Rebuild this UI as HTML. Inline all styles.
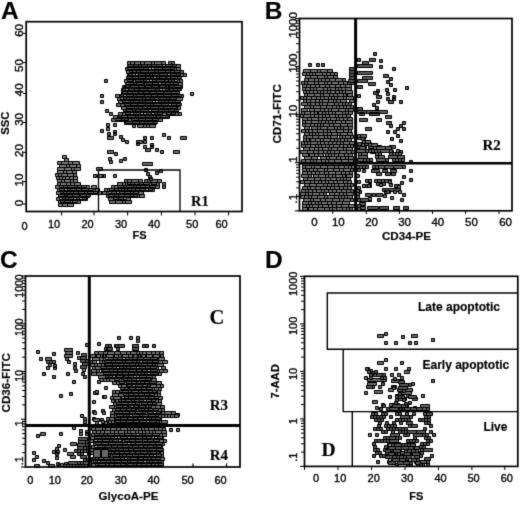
<!DOCTYPE html>
<html><head><meta charset="utf-8"><style>html,body{margin:0;padding:0;background:#fff;width:520px;height:505px;overflow:hidden}svg{display:block;filter:grayscale(1)}</style></head>
<body><svg width="520" height="505" viewBox="0 0 520 505"><defs><filter id="b" x="0" y="0" width="520" height="505" filterUnits="userSpaceOnUse" color-interpolation-filters="sRGB"><feConvolveMatrix order="3" kernelMatrix="0.0144 0.0912 0.0144 0.0912 0.5776 0.0912 0.0144 0.0912 0.0144" edgeMode="duplicate"/></filter></defs><g filter="url(#b)"><rect width="520" height="505" fill="#fff"/>
<path d="M127.5 61.5h3v3h-3zM130.5 61.5h4v3h-4zM134.5 61.5h6v3h-6zM140.5 61.5h4v3h-4zM144.5 61.5h7v3h-7zM151.5 61.5h3v3h-3zM154.5 61.5h7v3h-7zM161.5 61.5h4v3h-4zM168.5 61.5h3v3h-3zM171.5 61.5h3v3h-3zM127.5 64.5h3v3h-3zM130.5 64.5h5v3h-5zM135.5 64.5h4v3h-4zM139.5 64.5h6v3h-6zM145.5 64.5h3v3h-3zM150.5 64.5h5v3h-5zM155.5 64.5h5v3h-5zM160.5 64.5h3v3h-3zM163.5 64.5h6v3h-6zM169.5 64.5h6v3h-6zM175.5 64.5h5v3h-5zM125.5 67.5h7v3h-7zM132.5 67.5h6v3h-6zM138.5 67.5h5v3h-5zM143.5 67.5h5v3h-5zM148.5 67.5h4v3h-4zM152.5 67.5h3v3h-3zM155.5 67.5h5v3h-5zM160.5 67.5h4v3h-4zM164.5 67.5h7v3h-7zM171.5 67.5h5v3h-5zM176.5 67.5h4v3h-4zM126.5 70.5h5v3h-5zM131.5 70.5h5v3h-5zM136.5 70.5h4v3h-4zM140.5 70.5h3v3h-3zM143.5 70.5h3v3h-3zM146.5 70.5h3v3h-3zM149.5 70.5h4v3h-4zM153.5 70.5h4v3h-4zM157.5 70.5h7v3h-7zM164.5 70.5h7v3h-7zM171.5 70.5h3v3h-3zM174.5 70.5h6v3h-6zM180.5 70.5h3v3h-3zM127.5 73.5h3v3h-3zM130.5 73.5h5v3h-5zM135.5 73.5h4v3h-4zM139.5 73.5h4v3h-4zM143.5 73.5h6v3h-6zM149.5 73.5h5v3h-5zM154.5 73.5h5v3h-5zM159.5 73.5h7v3h-7zM166.5 73.5h6v3h-6zM173.5 73.5h7v3h-7zM180.5 73.5h3v3h-3zM183.5 73.5h3v3h-3zM126.5 76.5h5v3h-5zM131.5 76.5h7v3h-7zM138.5 76.5h4v3h-4zM142.5 76.5h4v3h-4zM146.5 76.5h4v3h-4zM150.5 76.5h3v3h-3zM153.5 76.5h5v3h-5zM158.5 76.5h3v3h-3zM161.5 76.5h4v3h-4zM165.5 76.5h6v3h-6zM171.5 76.5h7v3h-7zM124.5 79.5h6v3h-6zM130.5 79.5h3v3h-3zM133.5 79.5h6v3h-6zM139.5 79.5h3v3h-3zM142.5 79.5h7v3h-7zM149.5 79.5h3v3h-3zM152.5 79.5h7v3h-7zM159.5 79.5h7v3h-7zM166.5 79.5h7v3h-7zM173.5 79.5h3v3h-3zM176.5 79.5h3v3h-3zM179.5 79.5h3v3h-3zM126.5 82.5h6v3h-6zM132.5 82.5h7v3h-7zM139.5 82.5h5v3h-5zM144.5 82.5h6v3h-6zM150.5 82.5h7v3h-7zM157.5 82.5h4v3h-4zM161.5 82.5h6v3h-6zM167.5 82.5h3v3h-3zM170.5 82.5h7v3h-7zM177.5 82.5h5v3h-5zM124.5 85.5h4v3h-4zM128.5 85.5h3v3h-3zM131.5 85.5h5v3h-5zM136.5 85.5h4v3h-4zM140.5 85.5h3v3h-3zM143.5 85.5h7v3h-7zM150.5 85.5h6v3h-6zM156.5 85.5h3v3h-3zM159.5 85.5h5v3h-5zM164.5 85.5h7v3h-7zM171.5 85.5h4v3h-4zM175.5 85.5h7v3h-7zM121.5 88.5h5v3h-5zM126.5 88.5h4v3h-4zM130.5 88.5h5v3h-5zM135.5 88.5h4v3h-4zM139.5 88.5h7v3h-7zM146.5 88.5h4v3h-4zM150.5 88.5h6v3h-6zM156.5 88.5h4v3h-4zM160.5 88.5h6v3h-6zM169.5 88.5h3v3h-3zM172.5 88.5h4v3h-4zM176.5 88.5h3v3h-3zM121.5 91.5h3v3h-3zM124.5 91.5h4v3h-4zM128.5 91.5h6v3h-6zM134.5 91.5h3v3h-3zM137.5 91.5h4v3h-4zM141.5 91.5h3v3h-3zM144.5 91.5h3v3h-3zM147.5 91.5h4v3h-4zM151.5 91.5h4v3h-4zM155.5 91.5h6v3h-6zM161.5 91.5h4v3h-4zM165.5 91.5h4v3h-4zM169.5 91.5h6v3h-6zM175.5 91.5h4v3h-4zM115.5 94.5h4v3h-4zM119.5 94.5h4v3h-4zM123.5 94.5h4v3h-4zM127.5 94.5h7v3h-7zM134.5 94.5h4v3h-4zM138.5 94.5h4v3h-4zM142.5 94.5h4v3h-4zM146.5 94.5h6v3h-6zM152.5 94.5h6v3h-6zM158.5 94.5h7v3h-7zM165.5 94.5h6v3h-6zM171.5 94.5h6v3h-6zM177.5 94.5h6v3h-6zM117.5 97.5h3v3h-3zM120.5 97.5h7v3h-7zM127.5 97.5h4v3h-4zM131.5 97.5h3v3h-3zM134.5 97.5h3v3h-3zM137.5 97.5h7v3h-7zM144.5 97.5h6v3h-6zM150.5 97.5h3v3h-3zM153.5 97.5h4v3h-4zM157.5 97.5h4v3h-4zM161.5 97.5h4v3h-4zM165.5 97.5h4v3h-4zM169.5 97.5h3v3h-3zM172.5 97.5h3v3h-3zM175.5 97.5h7v3h-7zM118.5 100.5h4v3h-4zM122.5 100.5h4v3h-4zM126.5 100.5h5v3h-5zM131.5 100.5h6v3h-6zM137.5 100.5h5v3h-5zM142.5 100.5h4v3h-4zM149.5 100.5h5v3h-5zM154.5 100.5h6v3h-6zM160.5 100.5h3v3h-3zM163.5 100.5h5v3h-5zM168.5 100.5h6v3h-6zM176.5 100.5h4v3h-4zM116.5 103.5h4v3h-4zM120.5 103.5h4v3h-4zM124.5 103.5h5v3h-5zM129.5 103.5h4v3h-4zM133.5 103.5h6v3h-6zM139.5 103.5h5v3h-5zM144.5 103.5h4v3h-4zM148.5 103.5h3v3h-3zM151.5 103.5h4v3h-4zM155.5 103.5h6v3h-6zM161.5 103.5h4v3h-4zM165.5 103.5h3v3h-3zM168.5 103.5h6v3h-6zM174.5 103.5h5v3h-5zM121.5 106.5h6v3h-6zM127.5 106.5h3v3h-3zM130.5 106.5h4v3h-4zM134.5 106.5h3v3h-3zM137.5 106.5h5v3h-5zM142.5 106.5h3v3h-3zM145.5 106.5h3v3h-3zM148.5 106.5h4v3h-4zM152.5 106.5h5v3h-5zM157.5 106.5h7v3h-7zM164.5 106.5h3v3h-3zM167.5 106.5h7v3h-7zM174.5 106.5h3v3h-3zM177.5 106.5h3v3h-3zM123.5 109.5h6v3h-6zM129.5 109.5h6v3h-6zM135.5 109.5h5v3h-5zM140.5 109.5h6v3h-6zM146.5 109.5h6v3h-6zM152.5 109.5h7v3h-7zM159.5 109.5h4v3h-4zM163.5 109.5h4v3h-4zM167.5 109.5h3v3h-3zM173.5 109.5h5v3h-5zM118.5 112.5h4v3h-4zM122.5 112.5h4v3h-4zM126.5 112.5h4v3h-4zM130.5 112.5h6v3h-6zM138.5 112.5h3v3h-3zM141.5 112.5h3v3h-3zM144.5 112.5h5v3h-5zM151.5 112.5h3v3h-3zM154.5 112.5h4v3h-4zM158.5 112.5h4v3h-4zM162.5 112.5h5v3h-5zM167.5 112.5h6v3h-6zM173.5 112.5h5v3h-5zM178.5 112.5h3v3h-3zM113.5 115.5h4v3h-4zM117.5 115.5h3v3h-3zM120.5 115.5h3v3h-3zM123.5 115.5h4v3h-4zM127.5 115.5h7v3h-7zM134.5 115.5h3v3h-3zM137.5 115.5h7v3h-7zM144.5 115.5h4v3h-4zM148.5 115.5h5v3h-5zM153.5 115.5h4v3h-4zM157.5 115.5h5v3h-5zM162.5 115.5h7v3h-7zM111.5 118.5h5v3h-5zM116.5 118.5h3v3h-3zM119.5 118.5h4v3h-4zM123.5 118.5h3v3h-3zM126.5 118.5h7v3h-7zM133.5 118.5h3v3h-3zM136.5 118.5h5v3h-5zM141.5 118.5h4v3h-4zM145.5 118.5h4v3h-4zM149.5 118.5h7v3h-7zM156.5 118.5h6v3h-6zM124.5 121.5h6v3h-6zM130.5 121.5h7v3h-7zM137.5 121.5h3v3h-3zM140.5 121.5h4v3h-4zM144.5 121.5h3v3h-3zM147.5 121.5h3v3h-3zM153.5 121.5h3v3h-3zM132.5 124.5h3v3h-3zM137.5 124.5h6v3h-6zM143.5 124.5h3v3h-3zM146.5 124.5h3v3h-3zM149.5 124.5h6v3h-6z" fill="#707070" stroke="#000" stroke-width="1"/>
<path d="M127.5 64.5h6v2h-6zM133.5 64.5h5v2h-5zM138.5 64.5h3v2h-3zM141.5 64.5h6v2h-6zM147.5 64.5h4v2h-4zM151.5 64.5h5v2h-5zM156.5 64.5h6v2h-6z" fill="#5a5a5a" stroke="#000" stroke-width="1"/>
<path d="M162.5 64.5h3v2h-3z" fill="#bbb" stroke="#000" stroke-width="1"/>
<path d="M165.5 64.5h7v2h-7zM172.5 64.5h4v2h-4zM127.5 67.5h7v2h-7zM134.5 67.5h5v2h-5zM139.5 67.5h4v2h-4zM143.5 67.5h5v2h-5z" fill="#5a5a5a" stroke="#000" stroke-width="1"/>
<path d="M148.5 67.5h3v2h-3zM151.5 67.5h3v2h-3z" fill="#bbb" stroke="#000" stroke-width="1"/>
<path d="M154.5 67.5h8v2h-8zM162.5 67.5h8v2h-8zM170.5 67.5h4v2h-4zM129.5 70.5h3v2h-3zM132.5 70.5h4v2h-4zM136.5 70.5h4v2h-4zM140.5 70.5h8v2h-8zM148.5 70.5h6v2h-6zM154.5 70.5h4v2h-4zM158.5 70.5h7v2h-7zM165.5 70.5h5v2h-5zM170.5 70.5h4v2h-4zM174.5 70.5h6v2h-6zM128.5 73.5h4v2h-4z" fill="#5a5a5a" stroke="#000" stroke-width="1"/>
<path d="M132.5 73.5h3v2h-3zM135.5 73.5h3v2h-3z" fill="#bbb" stroke="#000" stroke-width="1"/>
<path d="M138.5 73.5h7v2h-7zM145.5 73.5h4v2h-4zM149.5 73.5h3v2h-3zM152.5 73.5h7v2h-7zM159.5 73.5h8v2h-8z" fill="#5a5a5a" stroke="#000" stroke-width="1"/>
<path d="M167.5 73.5h3v2h-3z" fill="#bbb" stroke="#000" stroke-width="1"/>
<path d="M170.5 73.5h6v2h-6zM176.5 73.5h4v2h-4zM126.5 76.5h6v2h-6zM132.5 76.5h6v2h-6zM138.5 76.5h7v2h-7zM145.5 76.5h5v2h-5zM150.5 76.5h3v2h-3z" fill="#5a5a5a" stroke="#000" stroke-width="1"/>
<path d="M153.5 76.5h3v2h-3z" fill="#bbb" stroke="#000" stroke-width="1"/>
<path d="M156.5 76.5h3v2h-3zM159.5 76.5h7v2h-7zM166.5 76.5h4v2h-4zM170.5 76.5h7v2h-7zM177.5 76.5h4v2h-4zM127.5 79.5h5v2h-5zM135.5 79.5h5v2h-5zM140.5 79.5h3v2h-3zM143.5 79.5h3v2h-3z" fill="#5a5a5a" stroke="#000" stroke-width="1"/>
<path d="M146.5 79.5h3v2h-3zM149.5 79.5h3v2h-3z" fill="#bbb" stroke="#000" stroke-width="1"/>
<path d="M152.5 79.5h4v2h-4zM156.5 79.5h8v2h-8zM164.5 79.5h4v2h-4zM168.5 79.5h3v2h-3zM171.5 79.5h3v2h-3z" fill="#5a5a5a" stroke="#000" stroke-width="1"/>
<path d="M174.5 79.5h3v2h-3z" fill="#bbb" stroke="#000" stroke-width="1"/>
<path d="M125.5 82.5h8v2h-8zM133.5 82.5h3v2h-3zM136.5 82.5h7v2h-7zM146.5 82.5h6v2h-6zM152.5 82.5h6v2h-6z" fill="#5a5a5a" stroke="#000" stroke-width="1"/>
<path d="M158.5 82.5h3v2h-3z" fill="#bbb" stroke="#000" stroke-width="1"/>
<path d="M161.5 82.5h4v2h-4zM165.5 82.5h5v2h-5zM170.5 82.5h3v2h-3zM173.5 82.5h5v2h-5zM122.5 85.5h3v2h-3zM124.5 85.5h5v2h-5zM130.5 85.5h8v2h-8zM138.5 85.5h7v2h-7zM144.5 85.5h7v2h-7zM152.5 85.5h7v2h-7zM158.5 85.5h7v2h-7zM166.5 85.5h3v2h-3zM168.5 85.5h6v2h-6zM174.5 85.5h7v2h-7zM122.5 88.5h3v2h-3z" fill="#5a5a5a" stroke="#000" stroke-width="1"/>
<path d="M125.5 88.5h3v2h-3z" fill="#bbb" stroke="#000" stroke-width="1"/>
<path d="M128.5 88.5h6v2h-6zM134.5 88.5h5v2h-5zM139.5 88.5h8v2h-8zM147.5 88.5h8v2h-8zM155.5 88.5h4v2h-4z" fill="#5a5a5a" stroke="#000" stroke-width="1"/>
<path d="M159.5 88.5h3v2h-3zM162.5 88.5h3v2h-3z" fill="#bbb" stroke="#000" stroke-width="1"/>
<path d="M165.5 88.5h3v2h-3zM169.5 88.5h4v2h-4zM173.5 88.5h4v2h-4zM177.5 88.5h4v2h-4zM122.5 91.5h5v2h-5zM127.5 91.5h5v2h-5zM132.5 91.5h6v2h-6zM138.5 91.5h5v2h-5zM143.5 91.5h6v2h-6zM149.5 91.5h7v2h-7zM156.5 91.5h7v2h-7zM163.5 91.5h8v2h-8zM171.5 91.5h8v2h-8zM120.5 94.5h3v2h-3z" fill="#5a5a5a" stroke="#000" stroke-width="1"/>
<path d="M123.5 94.5h3v2h-3z" fill="#bbb" stroke="#000" stroke-width="1"/>
<path d="M126.5 94.5h7v2h-7zM133.5 94.5h3v2h-3zM136.5 94.5h8v2h-8zM144.5 94.5h7v2h-7zM151.5 94.5h6v2h-6zM157.5 94.5h6v2h-6zM163.5 94.5h8v2h-8zM171.5 94.5h6v2h-6zM177.5 94.5h4v2h-4z" fill="#5a5a5a" stroke="#000" stroke-width="1"/>
<path d="M120.5 97.5h3v2h-3z" fill="#bbb" stroke="#000" stroke-width="1"/>
<path d="M123.5 97.5h3v2h-3zM126.5 97.5h8v2h-8zM134.5 97.5h8v2h-8zM142.5 97.5h3v2h-3zM145.5 97.5h5v2h-5zM150.5 97.5h4v2h-4zM154.5 97.5h4v2h-4zM158.5 97.5h8v2h-8zM166.5 97.5h3v2h-3zM169.5 97.5h7v2h-7zM122.5 100.5h8v2h-8zM130.5 100.5h3v2h-3zM133.5 100.5h6v2h-6zM139.5 100.5h3v2h-3zM142.5 100.5h3v2h-3zM145.5 100.5h7v2h-7z" fill="#5a5a5a" stroke="#000" stroke-width="1"/>
<path d="M152.5 100.5h3v2h-3zM155.5 100.5h3v2h-3z" fill="#bbb" stroke="#000" stroke-width="1"/>
<path d="M158.5 100.5h3v2h-3zM161.5 100.5h3v2h-3zM164.5 100.5h4v2h-4zM168.5 100.5h4v2h-4zM172.5 100.5h3v2h-3zM175.5 100.5h5v2h-5zM124.5 103.5h6v2h-6zM130.5 103.5h7v2h-7zM137.5 103.5h8v2h-8zM145.5 103.5h5v2h-5zM150.5 103.5h3v2h-3zM153.5 103.5h8v2h-8zM161.5 103.5h7v2h-7z" fill="#5a5a5a" stroke="#000" stroke-width="1"/>
<path d="M168.5 103.5h3v2h-3z" fill="#bbb" stroke="#000" stroke-width="1"/>
<path d="M171.5 103.5h5v2h-5zM176.5 103.5h5v2h-5zM126.5 106.5h8v2h-8zM134.5 106.5h4v2h-4zM138.5 106.5h4v2h-4zM142.5 106.5h5v2h-5zM147.5 106.5h3v2h-3zM150.5 106.5h8v2h-8zM158.5 106.5h5v2h-5zM163.5 106.5h7v2h-7zM170.5 106.5h6v2h-6zM123.5 109.5h3v2h-3zM126.5 109.5h6v2h-6zM132.5 109.5h3v2h-3zM135.5 109.5h5v2h-5zM140.5 109.5h8v2h-8z" fill="#5a5a5a" stroke="#000" stroke-width="1"/>
<path d="M148.5 109.5h3v2h-3z" fill="#bbb" stroke="#000" stroke-width="1"/>
<path d="M151.5 109.5h7v2h-7zM158.5 109.5h6v2h-6zM164.5 109.5h4v2h-4zM168.5 109.5h6v2h-6zM174.5 109.5h4v2h-4zM125.5 112.5h5v2h-5z" fill="#5a5a5a" stroke="#000" stroke-width="1"/>
<path d="M130.5 112.5h3v2h-3z" fill="#bbb" stroke="#000" stroke-width="1"/>
<path d="M133.5 112.5h7v2h-7z" fill="#5a5a5a" stroke="#000" stroke-width="1"/>
<path d="M140.5 112.5h3v2h-3zM143.5 112.5h3v2h-3z" fill="#bbb" stroke="#000" stroke-width="1"/>
<path d="M146.5 112.5h5v2h-5z" fill="#5a5a5a" stroke="#000" stroke-width="1"/>
<path d="M151.5 112.5h3v2h-3z" fill="#bbb" stroke="#000" stroke-width="1"/>
<path d="M154.5 112.5h3v2h-3zM157.5 112.5h5v2h-5zM166.5 112.5h5v2h-5zM171.5 112.5h4v2h-4zM118.5 115.5h3v2h-3zM121.5 115.5h6v2h-6zM127.5 115.5h8v2h-8zM135.5 115.5h3v2h-3zM138.5 115.5h7v2h-7zM145.5 115.5h4v2h-4zM149.5 115.5h4v2h-4zM153.5 115.5h3v2h-3zM156.5 115.5h4v2h-4zM160.5 115.5h8v2h-8zM115.5 118.5h6v2h-6zM121.5 118.5h3v2h-3zM124.5 118.5h4v2h-4zM131.5 118.5h7v2h-7zM138.5 118.5h7v2h-7zM145.5 118.5h7v2h-7zM152.5 118.5h6v2h-6zM125.5 121.5h7v2h-7zM132.5 121.5h7v2h-7zM139.5 121.5h5v2h-5zM144.5 121.5h3v2h-3zM147.5 121.5h6v2h-6zM153.5 121.5h4v2h-4z" fill="#5a5a5a" stroke="#000" stroke-width="1"/>
<path d="M104.5 79.5h3v3h-3zM100.5 94.5h3v3h-3zM100.5 100.5h3v3h-3zM190.5 92.5h3v3h-3zM105.5 109.5h3v3h-3zM109.5 112.5h3v3h-3zM106.5 123.5h3v3h-3zM113.5 123.5h3v3h-3zM106.5 127.5h3v3h-3zM100.5 129.5h3v3h-3zM107.5 132.5h3v3h-3zM113.5 130.5h3v3h-3zM113.5 132.5h3v3h-3zM107.5 136.5h6v3h-6zM119.5 135.5h3v3h-3zM121.5 138.5h3v3h-3zM125.5 140.5h3v3h-3zM136.5 140.5h6v3h-6zM136.5 142.5h3v3h-3zM143.5 136.5h3v3h-3zM143.5 140.5h3v3h-3zM150.5 136.5h3v3h-3zM150.5 143.5h3v3h-3zM150.5 145.5h3v3h-3zM143.5 145.5h3v3h-3zM145.5 148.5h5v3h-5zM155.5 148.5h3v3h-3zM160.5 150.5h3v3h-3zM162.5 133.5h3v3h-3zM167.5 136.5h3v3h-3zM180.5 136.5h6v3h-6zM173.5 150.5h6v3h-6zM107.5 150.5h6v3h-6zM114.5 152.5h3v3h-3zM108.5 157.5h3v3h-3zM109.5 160.5h3v3h-3zM119.5 159.5h3v3h-3zM123.5 157.5h3v3h-3zM142.5 162.5h10v3h-10z" fill="#6a6a6a" stroke="#000" stroke-width="1"/>
<path d="M62.5 155.5h4v3h-4zM64.5 158.5h4v3h-4zM57.5 161.5h4v3h-4zM61.5 161.5h7v3h-7zM68.5 161.5h4v3h-4zM72.5 161.5h7v3h-7zM59.5 164.5h7v3h-7zM66.5 164.5h3v3h-3zM69.5 164.5h7v3h-7zM76.5 164.5h4v3h-4zM57.5 167.5h7v3h-7zM64.5 167.5h7v3h-7zM71.5 167.5h3v3h-3zM74.5 167.5h6v3h-6zM57.5 170.5h6v3h-6zM63.5 170.5h3v3h-3zM66.5 170.5h6v3h-6zM72.5 170.5h4v3h-4zM55.5 173.5h3v3h-3zM58.5 173.5h3v3h-3zM61.5 173.5h6v3h-6zM67.5 173.5h6v3h-6zM73.5 173.5h3v3h-3zM56.5 176.5h3v3h-3zM59.5 176.5h3v3h-3zM62.5 176.5h3v3h-3zM65.5 176.5h4v3h-4zM69.5 176.5h4v3h-4zM73.5 176.5h4v3h-4zM57.5 179.5h4v3h-4zM61.5 179.5h3v3h-3zM64.5 179.5h6v3h-6zM70.5 179.5h3v3h-3zM73.5 179.5h4v3h-4zM57.5 182.5h3v3h-3zM60.5 182.5h6v3h-6zM66.5 182.5h4v3h-4zM70.5 182.5h4v3h-4zM74.5 182.5h6v3h-6zM55.5 185.5h6v3h-6zM61.5 185.5h4v3h-4zM65.5 185.5h4v3h-4zM69.5 185.5h7v3h-7zM76.5 185.5h4v3h-4zM80.5 185.5h3v3h-3zM83.5 185.5h6v3h-6zM91.5 185.5h5v3h-5zM57.5 188.5h5v3h-5zM62.5 188.5h3v3h-3zM65.5 188.5h4v3h-4zM69.5 188.5h4v3h-4zM73.5 188.5h7v3h-7zM80.5 188.5h4v3h-4zM84.5 188.5h4v3h-4zM88.5 188.5h7v3h-7zM95.5 188.5h4v3h-4zM56.5 191.5h4v3h-4zM60.5 191.5h4v3h-4zM64.5 191.5h4v3h-4zM68.5 191.5h4v3h-4zM72.5 191.5h6v3h-6zM78.5 191.5h7v3h-7zM85.5 191.5h3v3h-3zM88.5 191.5h7v3h-7zM95.5 191.5h6v3h-6zM101.5 191.5h3v3h-3zM58.5 194.5h5v3h-5zM63.5 194.5h7v3h-7zM70.5 194.5h6v3h-6zM76.5 194.5h6v3h-6zM82.5 194.5h7v3h-7zM56.5 197.5h6v3h-6zM62.5 197.5h5v3h-5zM67.5 197.5h6v3h-6zM73.5 197.5h4v3h-4zM77.5 197.5h4v3h-4zM81.5 197.5h3v3h-3zM84.5 197.5h3v3h-3zM58.5 200.5h3v3h-3zM61.5 200.5h4v3h-4zM65.5 200.5h4v3h-4zM69.5 200.5h6v3h-6zM75.5 200.5h5v3h-5zM58.5 203.5h4v3h-4zM62.5 203.5h5v3h-5zM67.5 203.5h6v3h-6z" fill="#7a7a7a" stroke="#000" stroke-width="1"/>
<path d="M59.5 185.5h4v2h-4zM63.5 185.5h4v2h-4zM67.5 185.5h7v2h-7zM74.5 185.5h3v2h-3zM77.5 185.5h4v2h-4zM81.5 185.5h5v2h-5zM59.5 188.5h5v2h-5z" fill="#666" stroke="#000" stroke-width="1"/>
<path d="M64.5 188.5h3v2h-3z" fill="#bbb" stroke="#000" stroke-width="1"/>
<path d="M67.5 188.5h3v2h-3zM70.5 188.5h6v2h-6zM76.5 188.5h5v2h-5zM81.5 188.5h7v2h-7zM88.5 188.5h5v2h-5zM60.5 191.5h3v2h-3zM63.5 191.5h3v2h-3zM66.5 191.5h4v2h-4zM70.5 191.5h3v2h-3zM73.5 191.5h5v2h-5zM78.5 191.5h6v2h-6zM84.5 191.5h3v2h-3zM87.5 191.5h6v2h-6zM93.5 191.5h4v2h-4zM58.5 194.5h6v2h-6zM64.5 194.5h3v2h-3zM66.5 194.5h6v2h-6zM72.5 194.5h7v2h-7zM80.5 194.5h6v2h-6zM86.5 194.5h4v2h-4z" fill="#666" stroke="#000" stroke-width="1"/>
<path d="M59.5 197.5h3v2h-3z" fill="#bbb" stroke="#000" stroke-width="1"/>
<path d="M62.5 197.5h3v2h-3zM65.5 197.5h3v2h-3zM68.5 197.5h5v2h-5z" fill="#666" stroke="#000" stroke-width="1"/>
<path d="M73.5 197.5h3v2h-3z" fill="#bbb" stroke="#000" stroke-width="1"/>
<path d="M76.5 197.5h3v2h-3z" fill="#666" stroke="#000" stroke-width="1"/>
<path d="M79.5 197.5h3v2h-3z" fill="#bbb" stroke="#000" stroke-width="1"/>
<path d="M82.5 197.5h4v2h-4zM60.5 200.5h4v2h-4zM64.5 200.5h6v2h-6z" fill="#666" stroke="#000" stroke-width="1"/>
<path d="M70.5 200.5h3v2h-3z" fill="#bbb" stroke="#000" stroke-width="1"/>
<path d="M72.5 200.5h5v2h-5z" fill="#666" stroke="#000" stroke-width="1"/>
<path d="M124.5 179.5h3v3h-3zM127.5 179.5h4v3h-4zM131.5 179.5h7v3h-7zM138.5 179.5h4v3h-4zM144.5 179.5h3v3h-3zM147.5 179.5h3v3h-3zM150.5 179.5h7v3h-7zM157.5 179.5h4v3h-4zM117.5 182.5h5v3h-5zM122.5 182.5h3v3h-3zM125.5 182.5h6v3h-6zM131.5 182.5h7v3h-7zM138.5 182.5h5v3h-5zM143.5 182.5h3v3h-3zM146.5 182.5h7v3h-7zM153.5 182.5h3v3h-3zM156.5 182.5h3v3h-3zM111.5 185.5h3v3h-3zM114.5 185.5h5v3h-5zM119.5 185.5h4v3h-4zM123.5 185.5h4v3h-4zM127.5 185.5h5v3h-5zM132.5 185.5h5v3h-5zM137.5 185.5h4v3h-4zM141.5 185.5h6v3h-6zM147.5 185.5h3v3h-3zM150.5 185.5h4v3h-4zM154.5 185.5h5v3h-5zM104.5 188.5h3v3h-3zM107.5 188.5h3v3h-3zM110.5 188.5h3v3h-3zM113.5 188.5h7v3h-7zM120.5 188.5h6v3h-6zM126.5 188.5h4v3h-4zM130.5 188.5h4v3h-4zM134.5 188.5h3v3h-3zM137.5 188.5h4v3h-4zM141.5 188.5h3v3h-3zM144.5 188.5h6v3h-6zM150.5 188.5h4v3h-4zM102.5 191.5h4v3h-4zM106.5 191.5h3v3h-3zM109.5 191.5h6v3h-6zM115.5 191.5h6v3h-6zM121.5 191.5h7v3h-7zM128.5 191.5h5v3h-5zM133.5 191.5h4v3h-4zM137.5 191.5h6v3h-6zM106.5 194.5h5v3h-5zM111.5 194.5h5v3h-5zM116.5 194.5h3v3h-3zM119.5 194.5h4v3h-4zM123.5 194.5h3v3h-3zM126.5 194.5h5v3h-5zM131.5 194.5h4v3h-4zM135.5 194.5h4v3h-4zM139.5 194.5h5v3h-5zM108.5 197.5h5v3h-5zM113.5 197.5h5v3h-5zM118.5 197.5h5v3h-5zM123.5 197.5h7v3h-7zM109.5 200.5h6v3h-6zM115.5 200.5h7v3h-7zM122.5 200.5h3v3h-3zM125.5 200.5h6v3h-6z" fill="#707070" stroke="#000" stroke-width="1"/>
<path d="M127.5 182.5h3v2h-3zM130.5 182.5h4v2h-4zM134.5 182.5h5v2h-5zM139.5 182.5h4v2h-4zM143.5 182.5h6v2h-6zM151.5 182.5h5v2h-5zM117.5 185.5h6v2h-6zM123.5 185.5h3v2h-3zM126.5 185.5h7v2h-7zM133.5 185.5h3v2h-3zM136.5 185.5h4v2h-4zM140.5 185.5h5v2h-5zM145.5 185.5h4v2h-4zM149.5 185.5h6v2h-6zM109.5 188.5h5v2h-5zM114.5 188.5h4v2h-4zM118.5 188.5h3v2h-3zM121.5 188.5h3v2h-3zM124.5 188.5h3v2h-3zM127.5 188.5h4v2h-4zM131.5 188.5h4v2h-4zM135.5 188.5h4v2h-4zM139.5 188.5h6v2h-6z" fill="#666" stroke="#000" stroke-width="1"/>
<path d="M145.5 188.5h3v2h-3z" fill="#bbb" stroke="#000" stroke-width="1"/>
<path d="M148.5 188.5h4v2h-4z" fill="#666" stroke="#000" stroke-width="1"/>
<path d="M108.5 191.5h3v2h-3z" fill="#bbb" stroke="#000" stroke-width="1"/>
<path d="M111.5 191.5h5v2h-5z" fill="#666" stroke="#000" stroke-width="1"/>
<path d="M116.5 191.5h3v2h-3z" fill="#bbb" stroke="#000" stroke-width="1"/>
<path d="M119.5 191.5h5v2h-5zM124.5 191.5h6v2h-6zM130.5 191.5h3v2h-3zM133.5 191.5h5v2h-5zM108.5 194.5h6v2h-6zM114.5 194.5h4v2h-4zM118.5 194.5h6v2h-6zM124.5 194.5h6v2h-6zM130.5 194.5h3v2h-3zM133.5 194.5h4v2h-4zM113.5 197.5h5v2h-5zM118.5 197.5h5v2h-5z" fill="#666" stroke="#000" stroke-width="1"/>
<path d="M123.5 197.5h3v2h-3z" fill="#bbb" stroke="#000" stroke-width="1"/>
<path d="M96.5 167.5h6v3h-6zM93.5 174.5h3v3h-3zM97.5 174.5h6v3h-6zM102.5 174.5h3v3h-3zM113.5 174.5h3v3h-3zM144.5 168.5h3v3h-3zM146.5 172.5h3v3h-3zM148.5 175.5h3v3h-3zM149.5 177.5h3v3h-3zM155.5 171.5h3v3h-3zM159.5 169.5h3v3h-3zM162.5 182.5h3v3h-3zM162.5 185.5h3v3h-3z" fill="#6a6a6a" stroke="#000" stroke-width="1"/>
<path d="M303.5 69.5h7v3h-7zM310.5 69.5h7v3h-7zM317.5 69.5h3v3h-3zM320.5 69.5h7v3h-7zM327.5 69.5h5v3h-5zM302.5 72.5h4v3h-4zM306.5 72.5h3v3h-3zM309.5 72.5h3v3h-3zM312.5 72.5h3v3h-3zM315.5 72.5h7v3h-7zM322.5 72.5h4v3h-4zM326.5 72.5h4v3h-4zM330.5 72.5h4v3h-4zM334.5 72.5h3v3h-3zM305.5 75.5h5v3h-5zM310.5 75.5h7v3h-7zM317.5 75.5h7v3h-7zM324.5 75.5h3v3h-3zM327.5 75.5h6v3h-6zM333.5 75.5h4v3h-4zM304.5 78.5h4v3h-4zM308.5 78.5h6v3h-6zM314.5 78.5h4v3h-4zM318.5 78.5h3v3h-3zM321.5 78.5h4v3h-4zM325.5 78.5h4v3h-4zM329.5 78.5h6v3h-6zM335.5 78.5h7v3h-7zM342.5 78.5h3v3h-3zM301.5 81.5h3v3h-3zM304.5 81.5h3v3h-3zM307.5 81.5h7v3h-7zM314.5 81.5h4v3h-4zM318.5 81.5h6v3h-6zM324.5 81.5h3v3h-3zM327.5 81.5h4v3h-4zM331.5 81.5h7v3h-7zM338.5 81.5h5v3h-5zM343.5 81.5h4v3h-4zM347.5 81.5h3v3h-3zM350.5 81.5h3v3h-3zM302.5 84.5h4v3h-4zM306.5 84.5h4v3h-4zM310.5 84.5h5v3h-5zM315.5 84.5h4v3h-4zM319.5 84.5h6v3h-6zM325.5 84.5h4v3h-4zM329.5 84.5h6v3h-6zM335.5 84.5h5v3h-5zM340.5 84.5h5v3h-5zM345.5 84.5h6v3h-6zM302.5 87.5h3v3h-3zM305.5 87.5h5v3h-5zM310.5 87.5h3v3h-3zM313.5 87.5h3v3h-3zM316.5 87.5h7v3h-7zM323.5 87.5h4v3h-4zM327.5 87.5h3v3h-3zM330.5 87.5h5v3h-5zM335.5 87.5h3v3h-3zM338.5 87.5h3v3h-3zM341.5 87.5h4v3h-4zM345.5 87.5h6v3h-6zM303.5 90.5h3v3h-3zM306.5 90.5h3v3h-3zM309.5 90.5h4v3h-4zM313.5 90.5h4v3h-4zM317.5 90.5h3v3h-3zM320.5 90.5h3v3h-3zM323.5 90.5h4v3h-4zM327.5 90.5h3v3h-3zM330.5 90.5h5v3h-5zM335.5 90.5h4v3h-4zM339.5 90.5h3v3h-3zM342.5 90.5h3v3h-3zM345.5 90.5h7v3h-7zM304.5 93.5h3v3h-3zM307.5 93.5h7v3h-7zM314.5 93.5h6v3h-6zM320.5 93.5h3v3h-3zM323.5 93.5h6v3h-6zM329.5 93.5h4v3h-4zM333.5 93.5h4v3h-4zM337.5 93.5h6v3h-6zM343.5 93.5h3v3h-3zM347.5 93.5h5v3h-5zM300.5 96.5h3v3h-3zM303.5 96.5h3v3h-3zM306.5 96.5h5v3h-5zM311.5 96.5h5v3h-5zM316.5 96.5h4v3h-4zM320.5 96.5h4v3h-4zM324.5 96.5h4v3h-4zM328.5 96.5h3v3h-3zM331.5 96.5h3v3h-3zM334.5 96.5h3v3h-3zM337.5 96.5h6v3h-6zM343.5 96.5h3v3h-3zM346.5 96.5h7v3h-7zM303.5 99.5h3v3h-3zM306.5 99.5h4v3h-4zM310.5 99.5h5v3h-5zM315.5 99.5h4v3h-4zM319.5 99.5h3v3h-3zM322.5 99.5h6v3h-6zM328.5 99.5h5v3h-5zM333.5 99.5h3v3h-3zM336.5 99.5h4v3h-4zM340.5 99.5h6v3h-6zM349.5 99.5h5v3h-5zM301.5 102.5h6v3h-6zM307.5 102.5h3v3h-3zM310.5 102.5h5v3h-5zM315.5 102.5h4v3h-4zM319.5 102.5h3v3h-3zM322.5 102.5h5v3h-5zM327.5 102.5h7v3h-7zM334.5 102.5h4v3h-4zM338.5 102.5h4v3h-4zM342.5 102.5h3v3h-3zM345.5 102.5h3v3h-3zM348.5 102.5h3v3h-3zM304.5 105.5h6v3h-6zM310.5 105.5h3v3h-3zM313.5 105.5h7v3h-7zM320.5 105.5h6v3h-6zM326.5 105.5h6v3h-6zM332.5 105.5h4v3h-4zM336.5 105.5h3v3h-3zM339.5 105.5h4v3h-4zM343.5 105.5h3v3h-3zM346.5 105.5h4v3h-4zM350.5 105.5h3v3h-3zM301.5 108.5h6v3h-6zM309.5 108.5h5v3h-5zM314.5 108.5h6v3h-6zM320.5 108.5h4v3h-4zM324.5 108.5h4v3h-4zM328.5 108.5h3v3h-3zM331.5 108.5h7v3h-7zM338.5 108.5h7v3h-7zM345.5 108.5h3v3h-3zM348.5 108.5h5v3h-5zM301.5 111.5h3v3h-3zM304.5 111.5h6v3h-6zM310.5 111.5h4v3h-4zM314.5 111.5h3v3h-3zM318.5 111.5h4v3h-4zM322.5 111.5h3v3h-3zM325.5 111.5h3v3h-3zM328.5 111.5h4v3h-4zM332.5 111.5h3v3h-3zM335.5 111.5h7v3h-7zM342.5 111.5h3v3h-3zM345.5 111.5h3v3h-3zM348.5 111.5h4v3h-4zM300.5 114.5h3v3h-3zM303.5 114.5h7v3h-7zM310.5 114.5h4v3h-4zM314.5 114.5h4v3h-4zM318.5 114.5h4v3h-4zM322.5 114.5h3v3h-3zM325.5 114.5h4v3h-4zM329.5 114.5h6v3h-6zM335.5 114.5h3v3h-3zM338.5 114.5h4v3h-4zM342.5 114.5h4v3h-4zM346.5 114.5h4v3h-4zM302.5 117.5h5v3h-5zM307.5 117.5h4v3h-4zM311.5 117.5h7v3h-7zM318.5 117.5h4v3h-4zM322.5 117.5h4v3h-4zM326.5 117.5h4v3h-4zM330.5 117.5h6v3h-6zM336.5 117.5h3v3h-3zM339.5 117.5h4v3h-4zM343.5 117.5h4v3h-4zM347.5 117.5h5v3h-5zM302.5 120.5h3v3h-3zM305.5 120.5h6v3h-6zM311.5 120.5h7v3h-7zM318.5 120.5h3v3h-3zM321.5 120.5h4v3h-4zM325.5 120.5h3v3h-3zM328.5 120.5h4v3h-4zM332.5 120.5h3v3h-3zM335.5 120.5h6v3h-6zM341.5 120.5h4v3h-4zM345.5 120.5h7v3h-7zM302.5 123.5h3v3h-3zM305.5 123.5h5v3h-5zM310.5 123.5h4v3h-4zM314.5 123.5h3v3h-3zM317.5 123.5h3v3h-3zM320.5 123.5h3v3h-3zM323.5 123.5h6v3h-6zM329.5 123.5h4v3h-4zM333.5 123.5h7v3h-7zM340.5 123.5h7v3h-7zM347.5 123.5h5v3h-5zM304.5 126.5h5v3h-5zM311.5 126.5h6v3h-6zM317.5 126.5h3v3h-3zM320.5 126.5h7v3h-7zM327.5 126.5h7v3h-7zM334.5 126.5h3v3h-3zM337.5 126.5h3v3h-3zM340.5 126.5h3v3h-3zM343.5 126.5h5v3h-5zM348.5 126.5h4v3h-4zM301.5 129.5h4v3h-4zM305.5 129.5h3v3h-3zM308.5 129.5h4v3h-4zM312.5 129.5h5v3h-5zM317.5 129.5h6v3h-6zM323.5 129.5h4v3h-4zM327.5 129.5h3v3h-3zM330.5 129.5h6v3h-6zM336.5 129.5h7v3h-7zM343.5 129.5h5v3h-5zM348.5 129.5h3v3h-3zM304.5 132.5h5v3h-5zM309.5 132.5h3v3h-3zM312.5 132.5h3v3h-3zM315.5 132.5h3v3h-3zM318.5 132.5h5v3h-5zM323.5 132.5h4v3h-4zM327.5 132.5h4v3h-4zM331.5 132.5h6v3h-6zM337.5 132.5h3v3h-3zM340.5 132.5h7v3h-7zM347.5 132.5h5v3h-5zM303.5 135.5h3v3h-3zM306.5 135.5h6v3h-6zM312.5 135.5h6v3h-6zM318.5 135.5h6v3h-6zM324.5 135.5h3v3h-3zM327.5 135.5h3v3h-3zM330.5 135.5h7v3h-7zM339.5 135.5h3v3h-3zM342.5 135.5h3v3h-3zM345.5 135.5h5v3h-5zM350.5 135.5h3v3h-3zM303.5 138.5h3v3h-3zM306.5 138.5h3v3h-3zM310.5 138.5h5v3h-5zM315.5 138.5h5v3h-5zM320.5 138.5h3v3h-3zM323.5 138.5h7v3h-7zM330.5 138.5h4v3h-4zM334.5 138.5h3v3h-3zM337.5 138.5h3v3h-3zM340.5 138.5h4v3h-4zM344.5 138.5h3v3h-3zM347.5 138.5h4v3h-4zM301.5 141.5h3v3h-3zM304.5 141.5h3v3h-3zM307.5 141.5h3v3h-3zM310.5 141.5h7v3h-7zM317.5 141.5h3v3h-3zM320.5 141.5h4v3h-4zM324.5 141.5h4v3h-4zM328.5 141.5h4v3h-4zM332.5 141.5h4v3h-4zM336.5 141.5h4v3h-4zM340.5 141.5h3v3h-3zM343.5 141.5h6v3h-6zM349.5 141.5h5v3h-5zM301.5 144.5h4v3h-4zM305.5 144.5h5v3h-5zM310.5 144.5h5v3h-5zM315.5 144.5h3v3h-3zM318.5 144.5h3v3h-3zM321.5 144.5h4v3h-4zM325.5 144.5h4v3h-4zM329.5 144.5h4v3h-4zM333.5 144.5h6v3h-6zM339.5 144.5h4v3h-4zM343.5 144.5h4v3h-4zM347.5 144.5h3v3h-3zM350.5 144.5h3v3h-3zM303.5 147.5h6v3h-6zM309.5 147.5h5v3h-5zM314.5 147.5h4v3h-4zM318.5 147.5h4v3h-4zM322.5 147.5h6v3h-6zM328.5 147.5h3v3h-3zM331.5 147.5h6v3h-6zM337.5 147.5h6v3h-6zM343.5 147.5h3v3h-3zM346.5 147.5h6v3h-6zM300.5 150.5h7v3h-7zM307.5 150.5h6v3h-6zM313.5 150.5h5v3h-5zM318.5 150.5h5v3h-5zM323.5 150.5h4v3h-4zM327.5 150.5h3v3h-3zM330.5 150.5h4v3h-4zM334.5 150.5h5v3h-5zM339.5 150.5h7v3h-7zM346.5 150.5h5v3h-5zM351.5 150.5h3v3h-3zM302.5 153.5h6v3h-6zM309.5 153.5h5v3h-5zM314.5 153.5h4v3h-4zM318.5 153.5h5v3h-5zM325.5 153.5h3v3h-3zM328.5 153.5h3v3h-3zM331.5 153.5h3v3h-3zM334.5 153.5h4v3h-4zM338.5 153.5h6v3h-6zM344.5 153.5h4v3h-4zM348.5 153.5h4v3h-4zM304.5 156.5h7v3h-7zM311.5 156.5h6v3h-6zM320.5 156.5h6v3h-6zM326.5 156.5h3v3h-3zM329.5 156.5h7v3h-7zM336.5 156.5h4v3h-4zM340.5 156.5h5v3h-5zM345.5 156.5h3v3h-3zM348.5 156.5h5v3h-5zM301.5 159.5h4v3h-4zM305.5 159.5h5v3h-5zM310.5 159.5h3v3h-3zM313.5 159.5h3v3h-3zM316.5 159.5h5v3h-5zM321.5 159.5h4v3h-4zM325.5 159.5h3v3h-3zM328.5 159.5h6v3h-6zM334.5 159.5h7v3h-7zM341.5 159.5h7v3h-7zM348.5 159.5h5v3h-5zM302.5 162.5h7v3h-7zM309.5 162.5h5v3h-5zM314.5 162.5h4v3h-4zM318.5 162.5h4v3h-4zM322.5 162.5h3v3h-3zM325.5 162.5h7v3h-7zM332.5 162.5h7v3h-7zM339.5 162.5h4v3h-4zM343.5 162.5h3v3h-3zM346.5 162.5h3v3h-3zM350.5 162.5h3v3h-3zM302.5 165.5h3v3h-3zM305.5 165.5h6v3h-6zM311.5 165.5h3v3h-3zM314.5 165.5h6v3h-6zM320.5 165.5h7v3h-7zM327.5 165.5h7v3h-7zM334.5 165.5h4v3h-4zM338.5 165.5h6v3h-6zM344.5 165.5h4v3h-4zM348.5 165.5h3v3h-3zM351.5 165.5h3v3h-3zM302.5 168.5h4v3h-4zM306.5 168.5h3v3h-3zM309.5 168.5h4v3h-4zM313.5 168.5h4v3h-4zM317.5 168.5h7v3h-7zM324.5 168.5h3v3h-3zM327.5 168.5h6v3h-6zM333.5 168.5h6v3h-6zM339.5 168.5h4v3h-4zM343.5 168.5h7v3h-7zM350.5 168.5h3v3h-3zM302.5 171.5h5v3h-5zM307.5 171.5h4v3h-4zM311.5 171.5h4v3h-4zM315.5 171.5h4v3h-4zM319.5 171.5h5v3h-5zM324.5 171.5h4v3h-4zM328.5 171.5h7v3h-7zM335.5 171.5h6v3h-6zM341.5 171.5h4v3h-4zM345.5 171.5h4v3h-4zM349.5 171.5h3v3h-3zM301.5 174.5h7v3h-7zM308.5 174.5h3v3h-3zM313.5 174.5h5v3h-5zM318.5 174.5h7v3h-7zM325.5 174.5h3v3h-3zM328.5 174.5h4v3h-4zM332.5 174.5h3v3h-3zM335.5 174.5h7v3h-7zM342.5 174.5h3v3h-3zM346.5 174.5h6v3h-6zM303.5 177.5h4v3h-4zM307.5 177.5h7v3h-7zM314.5 177.5h6v3h-6zM320.5 177.5h5v3h-5zM325.5 177.5h5v3h-5zM330.5 177.5h6v3h-6zM336.5 177.5h4v3h-4zM340.5 177.5h3v3h-3zM343.5 177.5h3v3h-3zM346.5 177.5h4v3h-4zM300.5 180.5h4v3h-4zM304.5 180.5h6v3h-6zM310.5 180.5h4v3h-4zM314.5 180.5h4v3h-4zM318.5 180.5h3v3h-3zM321.5 180.5h4v3h-4zM325.5 180.5h3v3h-3zM328.5 180.5h5v3h-5zM333.5 180.5h4v3h-4zM337.5 180.5h6v3h-6zM343.5 180.5h4v3h-4zM347.5 180.5h4v3h-4zM304.5 183.5h5v3h-5zM309.5 183.5h7v3h-7zM316.5 183.5h7v3h-7zM323.5 183.5h4v3h-4zM327.5 183.5h4v3h-4zM331.5 183.5h3v3h-3zM334.5 183.5h4v3h-4zM338.5 183.5h6v3h-6zM344.5 183.5h3v3h-3zM347.5 183.5h3v3h-3zM350.5 183.5h3v3h-3zM302.5 186.5h5v3h-5zM307.5 186.5h3v3h-3zM310.5 186.5h5v3h-5zM315.5 186.5h5v3h-5zM320.5 186.5h6v3h-6zM326.5 186.5h4v3h-4zM330.5 186.5h4v3h-4zM334.5 186.5h5v3h-5zM339.5 186.5h4v3h-4zM343.5 186.5h4v3h-4zM347.5 186.5h4v3h-4zM301.5 189.5h4v3h-4zM305.5 189.5h3v3h-3zM308.5 189.5h4v3h-4zM312.5 189.5h4v3h-4zM316.5 189.5h5v3h-5zM321.5 189.5h3v3h-3zM324.5 189.5h4v3h-4zM328.5 189.5h4v3h-4zM332.5 189.5h4v3h-4zM336.5 189.5h5v3h-5zM341.5 189.5h5v3h-5zM346.5 189.5h4v3h-4zM350.5 189.5h3v3h-3zM300.5 192.5h5v3h-5zM305.5 192.5h3v3h-3zM308.5 192.5h4v3h-4zM312.5 192.5h7v3h-7zM319.5 192.5h4v3h-4zM323.5 192.5h3v3h-3zM329.5 192.5h5v3h-5zM334.5 192.5h5v3h-5zM339.5 192.5h4v3h-4zM343.5 192.5h3v3h-3zM346.5 192.5h7v3h-7zM300.5 195.5h4v3h-4zM304.5 195.5h4v3h-4zM308.5 195.5h3v3h-3zM311.5 195.5h6v3h-6zM317.5 195.5h7v3h-7zM324.5 195.5h3v3h-3zM327.5 195.5h7v3h-7zM334.5 195.5h4v3h-4zM338.5 195.5h3v3h-3zM341.5 195.5h3v3h-3zM344.5 195.5h3v3h-3zM347.5 195.5h5v3h-5zM303.5 198.5h7v3h-7zM310.5 198.5h3v3h-3zM313.5 198.5h7v3h-7zM320.5 198.5h5v3h-5zM325.5 198.5h7v3h-7zM332.5 198.5h7v3h-7zM339.5 198.5h4v3h-4zM343.5 198.5h7v3h-7zM350.5 198.5h3v3h-3zM302.5 201.5h6v3h-6zM308.5 201.5h3v3h-3zM311.5 201.5h4v3h-4zM315.5 201.5h3v3h-3zM318.5 201.5h3v3h-3zM321.5 201.5h6v3h-6zM327.5 201.5h4v3h-4zM331.5 201.5h5v3h-5zM336.5 201.5h6v3h-6zM342.5 201.5h7v3h-7zM302.5 204.5h4v3h-4zM306.5 204.5h3v3h-3zM309.5 204.5h3v3h-3zM312.5 204.5h6v3h-6zM318.5 204.5h4v3h-4zM322.5 204.5h6v3h-6zM328.5 204.5h4v3h-4zM332.5 204.5h4v3h-4zM336.5 204.5h5v3h-5zM341.5 204.5h7v3h-7zM348.5 204.5h6v3h-6zM302.5 207.5h5v3h-5zM308.5 207.5h5v3h-5zM313.5 207.5h4v3h-4zM317.5 207.5h7v3h-7zM324.5 207.5h5v3h-5zM329.5 207.5h3v3h-3zM332.5 207.5h4v3h-4zM336.5 207.5h6v3h-6zM342.5 207.5h4v3h-4zM346.5 207.5h3v3h-3zM349.5 207.5h3v3h-3z" fill="#707070" stroke="#000" stroke-width="1"/>
<path d="M349.5 67.5h5v3h-5zM349.5 70.5h5v3h-5zM349.5 73.5h5v3h-5zM349.5 76.5h5v3h-5zM348.5 79.5h6v3h-6z" fill="#555" stroke="#000" stroke-width="1"/>
<path d="M308.5 63.5h3v3h-3zM316.5 63.5h3v3h-3zM321.5 63.5h3v3h-3zM373.5 52.5h3v3h-3zM357.5 58.5h3v3h-3zM369.5 58.5h6v3h-6zM379.5 59.5h3v3h-3zM362.5 61.5h6v3h-6zM357.5 64.5h15v3h-15zM379.5 65.5h3v3h-3zM392.5 67.5h3v3h-3zM357.5 71.5h15v3h-15zM383.5 74.5h5v3h-5zM389.5 77.5h3v3h-3zM362.5 76.5h10v3h-10zM386.5 80.5h3v3h-3zM389.5 83.5h3v3h-3zM357.5 79.5h10v3h-10zM368.5 82.5h7v3h-7zM357.5 85.5h5v3h-5zM405.5 86.5h3v3h-3zM376.5 89.5h3v3h-3zM385.5 88.5h3v3h-3zM393.5 88.5h3v3h-3zM373.5 91.5h5v3h-5zM386.5 92.5h3v3h-3zM357.5 94.5h3v3h-3zM376.5 95.5h5v3h-5zM392.5 95.5h3v3h-3zM386.5 97.5h3v3h-3zM392.5 97.5h3v3h-3zM388.5 100.5h5v3h-5zM399.5 100.5h3v3h-3zM376.5 100.5h3v3h-3zM372.5 103.5h3v3h-3zM375.5 106.5h3v3h-3zM357.5 107.5h5v3h-5zM357.5 110.5h9v3h-9zM366.5 110.5h21v3h-21zM359.5 112.5h5v3h-5zM369.5 112.5h10v3h-10zM385.5 115.5h6v3h-6zM359.5 118.5h8v3h-8zM376.5 118.5h5v3h-5zM402.5 121.5h3v3h-3zM399.5 124.5h3v3h-3zM396.5 127.5h3v3h-3zM402.5 127.5h3v3h-3zM393.5 130.5h3v3h-3zM396.5 134.5h3v3h-3zM386.5 121.5h5v3h-5zM389.5 124.5h3v3h-3zM365.5 127.5h6v3h-6zM386.5 130.5h3v3h-3zM390.5 137.5h3v3h-3zM399.5 139.5h3v3h-3zM357.5 136.5h8v3h-8zM357.5 142.5h14v3h-14zM357.5 145.5h9v3h-9zM368.5 145.5h13v3h-13zM389.5 145.5h6v3h-6zM359.5 150.5h6v3h-6zM370.5 150.5h11v3h-11zM389.5 150.5h4v3h-4zM396.5 150.5h6v3h-6zM409.5 160.5h3v3h-3zM362.5 169.5h3v3h-3zM409.5 169.5h3v3h-3zM402.5 175.5h3v3h-3zM409.5 178.5h3v3h-3zM365.5 179.5h6v3h-6zM377.5 179.5h14v3h-14zM400.5 181.5h3v3h-3zM362.5 184.5h9v3h-9zM376.5 182.5h9v3h-9zM389.5 183.5h3v3h-3zM394.5 184.5h5v3h-5zM382.5 188.5h18v3h-18zM384.5 190.5h6v3h-6zM358.5 190.5h3v3h-3zM365.5 193.5h6v3h-6zM376.5 193.5h6v3h-6zM402.5 193.5h3v3h-3zM356.5 198.5h15v3h-15zM377.5 198.5h3v3h-3zM400.5 198.5h3v3h-3z" fill="#5a5a5a" stroke="#000" stroke-width="1"/>
<path d="M357.5 134.5h3v3h-3zM360.5 134.5h6v3h-6zM361.5 137.5h3v3h-3zM362.5 140.5h3v3h-3zM365.5 140.5h5v3h-5zM361.5 143.5h3v3h-3zM368.5 143.5h3v3h-3zM371.5 143.5h6v3h-6zM359.5 146.5h6v3h-6zM373.5 146.5h3v3h-3zM376.5 146.5h9v3h-9zM385.5 146.5h6v3h-6zM356.5 149.5h9v3h-9zM365.5 149.5h3v3h-3zM368.5 149.5h3v3h-3zM371.5 149.5h3v3h-3zM374.5 149.5h3v3h-3zM377.5 149.5h3v3h-3zM380.5 149.5h9v3h-9zM389.5 149.5h3v3h-3zM396.5 149.5h3v3h-3zM358.5 152.5h3v3h-3zM361.5 152.5h6v3h-6zM375.5 152.5h3v3h-3zM378.5 152.5h3v3h-3zM389.5 152.5h3v3h-3zM392.5 152.5h3v3h-3zM395.5 152.5h3v3h-3zM398.5 152.5h3v3h-3zM358.5 155.5h9v3h-9zM375.5 155.5h3v3h-3zM378.5 155.5h6v3h-6zM388.5 155.5h9v3h-9zM397.5 155.5h7v3h-7zM357.5 158.5h6v3h-6zM363.5 158.5h3v3h-3zM366.5 158.5h3v3h-3zM369.5 158.5h3v3h-3zM376.5 158.5h9v3h-9zM385.5 158.5h3v3h-3zM392.5 158.5h3v3h-3zM395.5 158.5h3v3h-3zM398.5 158.5h3v3h-3zM401.5 158.5h3v3h-3zM359.5 165.5h3v3h-3zM362.5 165.5h3v3h-3zM365.5 165.5h3v3h-3zM372.5 165.5h3v3h-3zM375.5 165.5h3v3h-3zM378.5 165.5h6v3h-6zM384.5 165.5h9v3h-9zM393.5 165.5h9v3h-9zM402.5 165.5h3v3h-3z" fill="#666" stroke="#000" stroke-width="1"/>
<path d="M371.5 169.5h8v3h-8zM382.5 169.5h5v3h-5zM390.5 169.5h6v3h-6zM376.5 172.5h5v3h-5zM385.5 172.5h5v3h-5zM391.5 172.5h4v3h-4z" fill="#5a5a5a" stroke="#000" stroke-width="1"/>
<path d="M368.5 180.5h3v3h-3zM388.5 180.5h3v3h-3z" fill="#6a6a6a" stroke="#000" stroke-width="1"/>
<path d="M359.5 202.5h6v3h-6zM359.5 206.5h6v3h-6zM367.5 206.5h11v3h-11zM379.5 206.5h9v3h-9zM393.5 206.5h6v3h-6zM403.5 206.5h5v3h-5z" fill="#5a5a5a" stroke="#000" stroke-width="1"/>
<path d="M368.5 179.5h3v3h-3zM374.5 179.5h3v3h-3zM381.5 179.5h3v3h-3zM362.5 184.5h3v3h-3zM367.5 184.5h3v3h-3zM379.5 183.5h3v3h-3zM397.5 185.5h3v3h-3zM386.5 190.5h3v3h-3zM398.5 190.5h3v3h-3zM393.5 190.5h3v3h-3zM372.5 193.5h3v3h-3zM383.5 194.5h3v3h-3zM390.5 196.5h3v3h-3zM368.5 197.5h3v3h-3z" fill="#6a6a6a" stroke="#000" stroke-width="1"/>
<path d="M356.5 165.5h3v3h-3zM357.5 168.5h3v3h-3zM356.5 174.5h3v3h-3zM357.5 180.5h3v3h-3zM357.5 186.5h3v3h-3zM356.5 189.5h3v3h-3zM356.5 192.5h3v3h-3zM356.5 195.5h3v3h-3zM357.5 198.5h3v3h-3zM357.5 204.5h3v3h-3zM357.5 207.5h3v3h-3z" fill="#666" stroke="#000" stroke-width="1"/>
<path d="M36.5 350.5h3v3h-3zM39.5 357.5h3v3h-3zM42.5 372.5h3v3h-3zM45.5 357.5h6v3h-6zM46.5 360.5h3v3h-3zM49.5 360.5h3v3h-3zM48.5 363.5h3v3h-3zM52.5 360.5h3v3h-3zM53.5 364.5h3v3h-3zM53.5 366.5h3v3h-3zM46.5 366.5h3v3h-3zM52.5 352.5h3v3h-3zM52.5 375.5h3v3h-3zM64.5 348.5h8v3h-8zM65.5 351.5h7v3h-7zM64.5 354.5h8v3h-8zM65.5 357.5h3v3h-3zM67.5 360.5h3v3h-3zM66.5 372.5h3v3h-3zM72.5 380.5h3v3h-3zM59.5 394.5h3v3h-3zM69.5 392.5h3v3h-3zM85.5 343.5h3v3h-3zM80.5 414.5h3v3h-3zM83.5 417.5h3v3h-3zM83.5 420.5h3v3h-3zM117.5 336.5h3v3h-3zM129.5 336.5h3v3h-3zM136.5 336.5h3v3h-3zM136.5 339.5h3v3h-3zM97.5 342.5h3v3h-3zM114.5 344.5h6v3h-6zM132.5 344.5h6v3h-6zM93.5 391.5h5v3h-5zM102.5 395.5h3v3h-3zM92.5 410.5h3v3h-3zM101.5 409.5h3v3h-3zM36.5 434.5h3v3h-3zM40.5 432.5h5v3h-5zM59.5 432.5h3v3h-3zM72.5 426.5h3v3h-3zM79.5 429.5h3v3h-3zM79.5 432.5h3v3h-3zM85.5 430.5h3v3h-3zM85.5 432.5h3v3h-3zM70.5 442.5h6v3h-6zM57.5 444.5h3v3h-3zM55.5 447.5h3v3h-3zM63.5 448.5h3v3h-3zM52.5 450.5h3v3h-3zM56.5 450.5h3v3h-3zM67.5 452.5h6v3h-6zM70.5 455.5h5v3h-5zM55.5 452.5h3v3h-3zM55.5 456.5h3v3h-3zM32.5 451.5h3v3h-3zM35.5 455.5h3v3h-3zM32.5 458.5h3v3h-3zM42.5 459.5h3v3h-3zM46.5 461.5h3v3h-3zM34.5 464.5h5v3h-5zM48.5 464.5h6v3h-6zM56.5 462.5h3v3h-3zM60.5 463.5h3v3h-3zM64.5 462.5h3v3h-3zM65.5 464.5h3v3h-3zM169.5 428.5h3v3h-3zM176.5 428.5h3v3h-3zM172.5 413.5h7v3h-7z" fill="#6a6a6a" stroke="#000" stroke-width="1"/>
<path d="M81.5 353.5h5v3h-5zM80.5 356.5h6v3h-6zM80.5 359.5h5v3h-5zM85.5 359.5h4v3h-4zM82.5 362.5h6v3h-6zM80.5 365.5h6v3h-6z" fill="#555" stroke="#000" stroke-width="1"/>
<path d="M82.5 368.5h3v3h-3z" fill="#888" stroke="#000" stroke-width="1"/>
<path d="M73.5 362.5h3v3h-3zM73.5 366.5h3v3h-3zM74.5 369.5h3v3h-3zM81.5 372.5h3v3h-3zM83.5 375.5h3v3h-3zM77.5 356.5h3v3h-3zM76.5 351.5h3v3h-3zM92.5 417.5h3v3h-3zM95.5 421.5h3v3h-3zM100.5 418.5h3v3h-3zM104.5 421.5h3v3h-3zM108.5 417.5h3v3h-3zM97.5 424.5h3v3h-3zM111.5 421.5h3v3h-3z" fill="#6a6a6a" stroke="#000" stroke-width="1"/>
<path d="M78.5 437.5h9v3h-9zM78.5 440.5h7v3h-7zM85.5 440.5h4v3h-4zM77.5 443.5h8v3h-8zM85.5 443.5h5v3h-5z" fill="#555" stroke="#000" stroke-width="1"/>
<path d="M77.5 446.5h6v3h-6zM83.5 446.5h3v3h-3zM86.5 446.5h3v3h-3zM74.5 449.5h3v3h-3zM77.5 449.5h3v3h-3zM80.5 449.5h3v3h-3zM83.5 449.5h3v3h-3zM86.5 449.5h3v3h-3zM77.5 452.5h3v3h-3zM80.5 452.5h3v3h-3zM87.5 452.5h3v3h-3zM80.5 455.5h6v3h-6zM83.5 458.5h3v3h-3zM86.5 458.5h4v3h-4zM68.5 461.5h9v3h-9zM77.5 461.5h3v3h-3zM80.5 461.5h3v3h-3zM83.5 461.5h6v3h-6zM63.5 464.5h3v3h-3zM66.5 464.5h3v3h-3zM69.5 464.5h3v3h-3zM72.5 464.5h3v3h-3zM75.5 464.5h3v3h-3zM78.5 464.5h3v3h-3zM81.5 464.5h3v3h-3zM84.5 464.5h3v3h-3z" fill="#5a5a5a" stroke="#000" stroke-width="1"/>
<path d="M105.5 344.5h3v3h-3zM108.5 344.5h3v3h-3zM115.5 344.5h3v3h-3zM118.5 344.5h6v3h-6zM132.5 344.5h6v3h-6zM142.5 344.5h3v3h-3zM145.5 344.5h3v3h-3zM152.5 344.5h3v3h-3zM104.5 347.5h3v3h-3zM106.5 347.5h6v3h-6zM116.5 347.5h3v3h-3zM132.5 347.5h6v3h-6z" fill="#555" stroke="#000" stroke-width="1"/>
<path d="M94.5 351.5h4v3h-4zM98.5 351.5h5v3h-5zM103.5 351.5h4v3h-4zM107.5 351.5h7v3h-7zM114.5 351.5h6v3h-6zM120.5 351.5h6v3h-6zM126.5 351.5h4v3h-4zM130.5 351.5h6v3h-6zM136.5 351.5h3v3h-3zM139.5 351.5h3v3h-3zM142.5 351.5h4v3h-4zM146.5 351.5h5v3h-5zM151.5 351.5h4v3h-4zM155.5 351.5h4v3h-4zM159.5 351.5h4v3h-4zM90.5 354.5h5v3h-5zM96.5 354.5h4v3h-4zM100.5 354.5h3v3h-3zM102.5 354.5h3v3h-3zM106.5 354.5h7v3h-7zM114.5 354.5h4v3h-4zM118.5 354.5h3v3h-3zM122.5 354.5h6v3h-6zM128.5 354.5h5v3h-5zM132.5 354.5h5v3h-5zM138.5 354.5h3v3h-3zM140.5 354.5h5v3h-5zM146.5 354.5h7v3h-7zM152.5 354.5h7v3h-7zM160.5 354.5h3v3h-3zM92.5 357.5h7v3h-7zM99.5 357.5h4v3h-4zM103.5 357.5h4v3h-4zM107.5 357.5h5v3h-5zM112.5 357.5h6v3h-6zM118.5 357.5h7v3h-7zM125.5 357.5h3v3h-3zM128.5 357.5h5v3h-5zM133.5 357.5h3v3h-3zM136.5 357.5h4v3h-4zM140.5 357.5h4v3h-4zM144.5 357.5h4v3h-4zM148.5 357.5h4v3h-4zM152.5 357.5h3v3h-3zM155.5 357.5h3v3h-3zM158.5 357.5h6v3h-6zM89.5 360.5h3v3h-3zM92.5 360.5h4v3h-4zM99.5 360.5h3v3h-3zM102.5 360.5h4v3h-4zM106.5 360.5h5v3h-5zM111.5 360.5h7v3h-7zM118.5 360.5h3v3h-3zM121.5 360.5h3v3h-3zM124.5 360.5h4v3h-4zM128.5 360.5h3v3h-3zM131.5 360.5h5v3h-5zM136.5 360.5h4v3h-4zM140.5 360.5h4v3h-4zM144.5 360.5h3v3h-3zM147.5 360.5h3v3h-3zM150.5 360.5h4v3h-4zM154.5 360.5h4v3h-4zM158.5 360.5h4v3h-4zM162.5 360.5h5v3h-5zM90.5 363.5h4v3h-4zM94.5 363.5h3v3h-3zM97.5 363.5h4v3h-4zM101.5 363.5h3v3h-3zM104.5 363.5h4v3h-4zM108.5 363.5h4v3h-4zM112.5 363.5h6v3h-6zM118.5 363.5h7v3h-7zM125.5 363.5h4v3h-4zM129.5 363.5h3v3h-3zM132.5 363.5h3v3h-3zM135.5 363.5h4v3h-4zM139.5 363.5h4v3h-4zM143.5 363.5h4v3h-4zM147.5 363.5h3v3h-3zM150.5 363.5h7v3h-7zM157.5 363.5h6v3h-6zM92.5 366.5h3v3h-3zM95.5 366.5h6v3h-6zM101.5 366.5h4v3h-4zM105.5 366.5h4v3h-4zM109.5 366.5h6v3h-6zM115.5 366.5h7v3h-7zM122.5 366.5h4v3h-4zM126.5 366.5h3v3h-3zM129.5 366.5h3v3h-3zM132.5 366.5h3v3h-3zM135.5 366.5h6v3h-6zM141.5 366.5h7v3h-7zM148.5 366.5h6v3h-6zM154.5 366.5h4v3h-4zM161.5 366.5h4v3h-4zM91.5 369.5h5v3h-5zM96.5 369.5h3v3h-3zM101.5 369.5h3v3h-3zM104.5 369.5h6v3h-6zM110.5 369.5h5v3h-5zM115.5 369.5h3v3h-3zM121.5 369.5h6v3h-6zM127.5 369.5h5v3h-5zM132.5 369.5h7v3h-7zM139.5 369.5h6v3h-6zM145.5 369.5h4v3h-4zM149.5 369.5h3v3h-3zM152.5 369.5h4v3h-4zM156.5 369.5h3v3h-3zM159.5 369.5h4v3h-4zM163.5 369.5h4v3h-4zM91.5 372.5h5v3h-5zM96.5 372.5h7v3h-7zM103.5 372.5h7v3h-7zM110.5 372.5h3v3h-3zM113.5 372.5h6v3h-6zM119.5 372.5h4v3h-4zM123.5 372.5h7v3h-7zM130.5 372.5h4v3h-4zM134.5 372.5h5v3h-5zM139.5 372.5h4v3h-4zM143.5 372.5h4v3h-4zM147.5 372.5h6v3h-6zM153.5 372.5h5v3h-5zM158.5 372.5h3v3h-3zM98.5 375.5h7v3h-7zM105.5 375.5h6v3h-6zM111.5 375.5h6v3h-6zM117.5 375.5h6v3h-6zM123.5 375.5h7v3h-7zM130.5 375.5h3v3h-3zM133.5 375.5h4v3h-4zM137.5 375.5h4v3h-4zM141.5 375.5h3v3h-3zM144.5 375.5h4v3h-4zM148.5 375.5h3v3h-3zM151.5 375.5h4v3h-4zM99.5 378.5h4v3h-4zM103.5 378.5h3v3h-3zM106.5 378.5h3v3h-3zM109.5 378.5h7v3h-7zM116.5 378.5h5v3h-5zM121.5 378.5h7v3h-7zM128.5 378.5h6v3h-6zM134.5 378.5h7v3h-7zM141.5 378.5h3v3h-3zM144.5 378.5h5v3h-5zM151.5 378.5h5v3h-5zM112.5 381.5h4v3h-4zM116.5 381.5h3v3h-3zM119.5 381.5h7v3h-7zM126.5 381.5h5v3h-5zM134.5 381.5h5v3h-5zM139.5 381.5h6v3h-6zM145.5 381.5h7v3h-7zM152.5 381.5h3v3h-3zM155.5 381.5h6v3h-6zM118.5 384.5h3v3h-3zM121.5 384.5h5v3h-5zM126.5 384.5h7v3h-7zM136.5 384.5h4v3h-4zM140.5 384.5h6v3h-6zM147.5 384.5h3v3h-3zM150.5 384.5h6v3h-6zM156.5 384.5h4v3h-4zM160.5 384.5h3v3h-3zM122.5 387.5h7v3h-7zM129.5 387.5h4v3h-4zM133.5 387.5h3v3h-3zM136.5 387.5h6v3h-6zM142.5 387.5h3v3h-3zM145.5 387.5h6v3h-6zM151.5 387.5h3v3h-3zM154.5 387.5h4v3h-4zM158.5 387.5h3v3h-3zM112.5 390.5h3v3h-3zM115.5 390.5h4v3h-4zM119.5 390.5h5v3h-5zM124.5 390.5h3v3h-3zM127.5 390.5h4v3h-4zM131.5 390.5h4v3h-4zM135.5 390.5h4v3h-4zM139.5 390.5h4v3h-4zM143.5 390.5h3v3h-3zM146.5 390.5h3v3h-3zM149.5 390.5h4v3h-4zM153.5 390.5h4v3h-4zM157.5 390.5h3v3h-3zM112.5 393.5h6v3h-6zM118.5 393.5h6v3h-6zM126.5 393.5h4v3h-4zM130.5 393.5h4v3h-4zM134.5 393.5h7v3h-7zM141.5 393.5h7v3h-7zM148.5 393.5h5v3h-5zM153.5 393.5h4v3h-4zM157.5 393.5h3v3h-3zM110.5 396.5h3v3h-3zM113.5 396.5h7v3h-7zM120.5 396.5h4v3h-4zM124.5 396.5h4v3h-4zM128.5 396.5h5v3h-5zM133.5 396.5h7v3h-7zM140.5 396.5h4v3h-4zM144.5 396.5h4v3h-4zM148.5 396.5h4v3h-4zM152.5 396.5h4v3h-4zM156.5 396.5h6v3h-6zM111.5 399.5h3v3h-3zM115.5 399.5h3v3h-3zM118.5 399.5h6v3h-6zM124.5 399.5h3v3h-3zM127.5 399.5h3v3h-3zM130.5 399.5h7v3h-7zM137.5 399.5h4v3h-4zM141.5 399.5h3v3h-3zM144.5 399.5h4v3h-4zM149.5 399.5h3v3h-3zM152.5 399.5h6v3h-6zM158.5 399.5h3v3h-3zM113.5 402.5h6v3h-6zM119.5 402.5h7v3h-7zM126.5 402.5h7v3h-7zM133.5 402.5h4v3h-4zM137.5 402.5h4v3h-4zM141.5 402.5h3v3h-3zM144.5 402.5h3v3h-3zM147.5 402.5h4v3h-4zM151.5 402.5h3v3h-3zM154.5 402.5h7v3h-7zM109.5 405.5h5v3h-5zM114.5 405.5h6v3h-6zM120.5 405.5h5v3h-5zM125.5 405.5h5v3h-5zM130.5 405.5h3v3h-3zM133.5 405.5h4v3h-4zM137.5 405.5h4v3h-4zM141.5 405.5h6v3h-6zM147.5 405.5h3v3h-3zM150.5 405.5h5v3h-5zM155.5 405.5h5v3h-5zM160.5 405.5h4v3h-4zM112.5 408.5h4v3h-4zM116.5 408.5h3v3h-3zM119.5 408.5h4v3h-4zM123.5 408.5h3v3h-3zM126.5 408.5h3v3h-3zM129.5 408.5h4v3h-4zM133.5 408.5h3v3h-3zM136.5 408.5h3v3h-3zM139.5 408.5h4v3h-4zM143.5 408.5h4v3h-4zM147.5 408.5h4v3h-4zM151.5 408.5h7v3h-7zM158.5 408.5h3v3h-3zM161.5 408.5h3v3h-3zM110.5 411.5h4v3h-4zM114.5 411.5h4v3h-4zM118.5 411.5h3v3h-3zM121.5 411.5h3v3h-3zM124.5 411.5h5v3h-5zM129.5 411.5h4v3h-4zM133.5 411.5h4v3h-4zM137.5 411.5h7v3h-7zM144.5 411.5h3v3h-3zM147.5 411.5h4v3h-4zM151.5 411.5h3v3h-3zM154.5 411.5h7v3h-7zM161.5 411.5h3v3h-3zM164.5 411.5h7v3h-7zM171.5 411.5h4v3h-4zM110.5 414.5h4v3h-4zM114.5 414.5h3v3h-3zM117.5 414.5h6v3h-6zM123.5 414.5h3v3h-3zM127.5 414.5h3v3h-3zM132.5 414.5h7v3h-7zM139.5 414.5h3v3h-3zM142.5 414.5h3v3h-3zM145.5 414.5h3v3h-3zM148.5 414.5h4v3h-4zM152.5 414.5h6v3h-6zM158.5 414.5h3v3h-3zM161.5 414.5h3v3h-3zM164.5 414.5h3v3h-3zM167.5 414.5h3v3h-3zM170.5 414.5h4v3h-4zM174.5 414.5h4v3h-4zM108.5 417.5h6v3h-6zM116.5 417.5h7v3h-7zM123.5 417.5h4v3h-4zM127.5 417.5h3v3h-3zM130.5 417.5h7v3h-7zM137.5 417.5h3v3h-3zM140.5 417.5h4v3h-4zM144.5 417.5h4v3h-4zM148.5 417.5h6v3h-6zM154.5 417.5h7v3h-7zM108.5 420.5h3v3h-3zM111.5 420.5h3v3h-3zM114.5 420.5h7v3h-7zM121.5 420.5h6v3h-6zM127.5 420.5h6v3h-6zM133.5 420.5h4v3h-4zM137.5 420.5h3v3h-3zM140.5 420.5h4v3h-4zM144.5 420.5h4v3h-4zM148.5 420.5h6v3h-6zM154.5 420.5h4v3h-4zM158.5 420.5h3v3h-3zM161.5 420.5h6v3h-6zM110.5 423.5h4v3h-4zM114.5 423.5h3v3h-3zM119.5 423.5h5v3h-5zM124.5 423.5h4v3h-4zM128.5 423.5h4v3h-4zM132.5 423.5h6v3h-6zM138.5 423.5h7v3h-7zM145.5 423.5h3v3h-3zM148.5 423.5h4v3h-4zM152.5 423.5h3v3h-3zM155.5 423.5h6v3h-6z" fill="#707070" stroke="#000" stroke-width="1"/>
<path d="M105.5 357.5h3v2h-3z" fill="#bbb" stroke="#000" stroke-width="1"/>
<path d="M108.5 357.5h5v2h-5zM113.5 357.5h4v2h-4zM117.5 357.5h5v2h-5z" fill="#666" stroke="#000" stroke-width="1"/>
<path d="M122.5 357.5h3v2h-3z" fill="#bbb" stroke="#000" stroke-width="1"/>
<path d="M125.5 357.5h4v2h-4zM129.5 357.5h3v2h-3zM132.5 357.5h5v2h-5zM137.5 357.5h6v2h-6zM143.5 357.5h7v2h-7zM150.5 357.5h7v2h-7zM104.5 360.5h7v2h-7zM111.5 360.5h4v2h-4zM115.5 360.5h7v2h-7zM122.5 360.5h3v2h-3zM125.5 360.5h7v2h-7zM132.5 360.5h4v2h-4zM136.5 360.5h3v2h-3z" fill="#666" stroke="#000" stroke-width="1"/>
<path d="M139.5 360.5h3v2h-3z" fill="#bbb" stroke="#000" stroke-width="1"/>
<path d="M142.5 360.5h5v2h-5zM147.5 360.5h5v2h-5zM152.5 360.5h6v2h-6zM105.5 363.5h7v2h-7zM112.5 363.5h6v2h-6zM118.5 363.5h5v2h-5zM123.5 363.5h6v2h-6zM129.5 363.5h6v2h-6zM135.5 363.5h3v2h-3zM138.5 363.5h3v2h-3zM141.5 363.5h6v2h-6zM147.5 363.5h5v2h-5zM152.5 363.5h3v2h-3zM100.5 366.5h6v2h-6zM106.5 366.5h6v2h-6zM112.5 366.5h4v2h-4z" fill="#666" stroke="#000" stroke-width="1"/>
<path d="M116.5 366.5h3v2h-3z" fill="#bbb" stroke="#000" stroke-width="1"/>
<path d="M119.5 366.5h4v2h-4zM123.5 366.5h3v2h-3zM126.5 366.5h4v2h-4zM130.5 366.5h6v2h-6z" fill="#666" stroke="#000" stroke-width="1"/>
<path d="M136.5 366.5h3v2h-3z" fill="#bbb" stroke="#000" stroke-width="1"/>
<path d="M139.5 366.5h6v2h-6zM145.5 366.5h5v2h-5zM150.5 366.5h6v2h-6zM102.5 369.5h7v2h-7zM109.5 369.5h4v2h-4zM113.5 369.5h4v2h-4zM117.5 369.5h5v2h-5zM122.5 369.5h3v2h-3zM125.5 369.5h4v2h-4zM129.5 369.5h7v2h-7zM136.5 369.5h5v2h-5zM142.5 369.5h5v2h-5z" fill="#666" stroke="#000" stroke-width="1"/>
<path d="M147.5 369.5h3v2h-3z" fill="#bbb" stroke="#000" stroke-width="1"/>
<path d="M150.5 369.5h7v2h-7zM103.5 372.5h7v2h-7zM110.5 372.5h7v2h-7zM117.5 372.5h5v2h-5zM122.5 372.5h6v2h-6zM128.5 372.5h6v2h-6zM134.5 372.5h3v2h-3zM137.5 372.5h4v2h-4zM141.5 372.5h3v2h-3zM144.5 372.5h3v2h-3z" fill="#666" stroke="#000" stroke-width="1"/>
<path d="M147.5 372.5h3v2h-3z" fill="#bbb" stroke="#000" stroke-width="1"/>
<path d="M150.5 372.5h3v2h-3zM153.5 372.5h4v2h-4zM105.5 375.5h3v2h-3zM108.5 375.5h4v2h-4z" fill="#666" stroke="#000" stroke-width="1"/>
<path d="M112.5 375.5h3v2h-3z" fill="#bbb" stroke="#000" stroke-width="1"/>
<path d="M116.5 375.5h6v2h-6zM124.5 375.5h4v2h-4zM128.5 375.5h5v2h-5z" fill="#666" stroke="#000" stroke-width="1"/>
<path d="M133.5 375.5h3v2h-3zM136.5 375.5h3v2h-3z" fill="#bbb" stroke="#000" stroke-width="1"/>
<path d="M139.5 375.5h7v2h-7zM146.5 375.5h6v2h-6zM114.5 378.5h5v2h-5zM123.5 378.5h4v2h-4zM127.5 378.5h4v2h-4zM131.5 378.5h5v2h-5z" fill="#666" stroke="#000" stroke-width="1"/>
<path d="M136.5 378.5h3v2h-3z" fill="#bbb" stroke="#000" stroke-width="1"/>
<path d="M139.5 378.5h6v2h-6zM145.5 378.5h5v2h-5zM119.5 381.5h5v2h-5zM126.5 381.5h5v2h-5zM131.5 381.5h5v2h-5zM136.5 381.5h4v2h-4zM140.5 381.5h4v2h-4zM144.5 381.5h5v2h-5zM149.5 381.5h7v2h-7zM127.5 384.5h4v2h-4z" fill="#666" stroke="#000" stroke-width="1"/>
<path d="M132.5 384.5h3v2h-3z" fill="#bbb" stroke="#000" stroke-width="1"/>
<path d="M135.5 384.5h7v2h-7zM142.5 384.5h5v2h-5zM147.5 384.5h3v2h-3zM120.5 387.5h4v2h-4zM124.5 387.5h4v2h-4zM129.5 387.5h6v2h-6zM135.5 387.5h6v2h-6zM141.5 387.5h5v2h-5zM146.5 387.5h6v2h-6zM119.5 390.5h3v2h-3zM122.5 390.5h6v2h-6zM128.5 390.5h3v2h-3zM131.5 390.5h7v2h-7zM138.5 390.5h3v2h-3zM141.5 390.5h7v2h-7zM148.5 390.5h4v2h-4zM152.5 390.5h4v2h-4zM123.5 393.5h5v2h-5zM128.5 393.5h5v2h-5zM133.5 393.5h5v2h-5zM138.5 393.5h6v2h-6zM144.5 393.5h5v2h-5zM149.5 393.5h5v2h-5z" fill="#666" stroke="#000" stroke-width="1"/>
<path d="M121.5 396.5h3v2h-3z" fill="#bbb" stroke="#000" stroke-width="1"/>
<path d="M124.5 396.5h4v2h-4zM128.5 396.5h7v2h-7zM135.5 396.5h4v2h-4zM139.5 396.5h6v2h-6zM145.5 396.5h3v2h-3zM148.5 396.5h6v2h-6zM154.5 396.5h4v2h-4zM118.5 399.5h3v2h-3zM121.5 399.5h4v2h-4zM125.5 399.5h6v2h-6zM131.5 399.5h3v2h-3zM134.5 399.5h5v2h-5zM139.5 399.5h4v2h-4z" fill="#666" stroke="#000" stroke-width="1"/>
<path d="M143.5 399.5h3v2h-3z" fill="#bbb" stroke="#000" stroke-width="1"/>
<path d="M146.5 399.5h5v2h-5zM151.5 399.5h4v2h-4zM116.5 402.5h5v2h-5zM121.5 402.5h7v2h-7zM128.5 402.5h7v2h-7zM135.5 402.5h4v2h-4zM141.5 402.5h6v2h-6zM147.5 402.5h5v2h-5zM152.5 402.5h4v2h-4zM116.5 405.5h6v2h-6zM122.5 405.5h5v2h-5zM128.5 405.5h3v2h-3z" fill="#666" stroke="#000" stroke-width="1"/>
<path d="M130.5 405.5h3v2h-3z" fill="#bbb" stroke="#000" stroke-width="1"/>
<path d="M134.5 405.5h5v2h-5zM138.5 405.5h7v2h-7z" fill="#666" stroke="#000" stroke-width="1"/>
<path d="M146.5 405.5h3v2h-3z" fill="#bbb" stroke="#000" stroke-width="1"/>
<path d="M148.5 405.5h3v2h-3zM115.5 408.5h5v2h-5zM120.5 408.5h6v2h-6zM126.5 408.5h5v2h-5zM131.5 408.5h4v2h-4zM138.5 408.5h3v2h-3zM141.5 408.5h3v2h-3zM144.5 408.5h4v2h-4zM148.5 408.5h5v2h-5zM153.5 408.5h5v2h-5zM114.5 411.5h4v2h-4zM118.5 411.5h4v2h-4zM122.5 411.5h7v2h-7zM129.5 411.5h6v2h-6zM135.5 411.5h7v2h-7zM142.5 411.5h3v2h-3zM147.5 411.5h6v2h-6z" fill="#666" stroke="#000" stroke-width="1"/>
<path d="M153.5 411.5h3v2h-3z" fill="#bbb" stroke="#000" stroke-width="1"/>
<path d="M156.5 411.5h4v2h-4zM116.5 414.5h7v2h-7zM123.5 414.5h3v2h-3zM126.5 414.5h3v2h-3z" fill="#666" stroke="#000" stroke-width="1"/>
<path d="M129.5 414.5h3v2h-3z" fill="#bbb" stroke="#000" stroke-width="1"/>
<path d="M132.5 414.5h7v2h-7zM139.5 414.5h3v2h-3zM142.5 414.5h6v2h-6zM148.5 414.5h7v2h-7zM155.5 414.5h3v2h-3zM115.5 417.5h5v2h-5zM120.5 417.5h7v2h-7zM127.5 417.5h6v2h-6zM133.5 417.5h4v2h-4zM137.5 417.5h6v2h-6z" fill="#666" stroke="#000" stroke-width="1"/>
<path d="M143.5 417.5h3v2h-3z" fill="#bbb" stroke="#000" stroke-width="1"/>
<path d="M146.5 417.5h5v2h-5zM151.5 417.5h4v2h-4zM155.5 417.5h5v2h-5zM115.5 420.5h5v2h-5zM120.5 420.5h6v2h-6zM126.5 420.5h7v2h-7zM133.5 420.5h6v2h-6zM139.5 420.5h7v2h-7z" fill="#666" stroke="#000" stroke-width="1"/>
<path d="M146.5 420.5h3v2h-3z" fill="#bbb" stroke="#000" stroke-width="1"/>
<path d="M149.5 420.5h7v2h-7zM156.5 420.5h3v2h-3zM111.5 423.5h4v2h-4zM115.5 423.5h6v2h-6zM121.5 423.5h7v2h-7zM128.5 423.5h3v2h-3zM131.5 423.5h7v2h-7zM138.5 423.5h7v2h-7zM146.5 423.5h5v2h-5zM151.5 423.5h4v2h-4z" fill="#666" stroke="#000" stroke-width="1"/>
<path d="M95.5 390.5h3v3h-3zM103.5 395.5h3v3h-3zM93.5 411.5h3v3h-3zM102.5 411.5h3v3h-3zM93.5 418.5h6v3h-6zM101.5 420.5h3v3h-3zM106.5 417.5h3v3h-3zM97.5 380.5h3v3h-3zM104.5 386.5h3v3h-3zM92.5 400.5h3v3h-3z" fill="#6a6a6a" stroke="#000" stroke-width="1"/>
<path d="M91.5 427.5h4v3h-4zM95.5 427.5h7v3h-7zM102.5 427.5h3v3h-3zM105.5 427.5h5v3h-5zM110.5 427.5h6v3h-6zM116.5 427.5h4v3h-4zM120.5 427.5h7v3h-7zM127.5 427.5h3v3h-3zM130.5 427.5h3v3h-3zM133.5 427.5h5v3h-5zM138.5 427.5h3v3h-3zM141.5 427.5h3v3h-3zM144.5 427.5h4v3h-4zM148.5 427.5h6v3h-6zM154.5 427.5h4v3h-4zM158.5 427.5h4v3h-4zM162.5 427.5h3v3h-3zM92.5 430.5h4v3h-4zM96.5 430.5h4v3h-4zM100.5 430.5h4v3h-4zM104.5 430.5h6v3h-6zM110.5 430.5h4v3h-4zM114.5 430.5h4v3h-4zM118.5 430.5h6v3h-6zM124.5 430.5h3v3h-3zM127.5 430.5h3v3h-3zM130.5 430.5h5v3h-5zM135.5 430.5h3v3h-3zM138.5 430.5h4v3h-4zM142.5 430.5h3v3h-3zM145.5 430.5h4v3h-4zM149.5 430.5h3v3h-3zM152.5 430.5h3v3h-3zM155.5 430.5h6v3h-6zM161.5 430.5h5v3h-5zM91.5 433.5h3v3h-3zM94.5 433.5h6v3h-6zM100.5 433.5h3v3h-3zM103.5 433.5h7v3h-7zM110.5 433.5h6v3h-6zM116.5 433.5h6v3h-6zM122.5 433.5h3v3h-3zM125.5 433.5h6v3h-6zM131.5 433.5h4v3h-4zM135.5 433.5h6v3h-6zM141.5 433.5h4v3h-4zM145.5 433.5h7v3h-7zM152.5 433.5h4v3h-4zM156.5 433.5h6v3h-6zM162.5 433.5h4v3h-4zM90.5 436.5h5v3h-5zM95.5 436.5h7v3h-7zM102.5 436.5h5v3h-5zM107.5 436.5h4v3h-4zM111.5 436.5h6v3h-6zM117.5 436.5h4v3h-4zM121.5 436.5h4v3h-4zM125.5 436.5h4v3h-4zM129.5 436.5h5v3h-5zM134.5 436.5h4v3h-4zM138.5 436.5h3v3h-3zM141.5 436.5h3v3h-3zM144.5 436.5h5v3h-5zM149.5 436.5h7v3h-7zM156.5 436.5h3v3h-3zM159.5 436.5h4v3h-4zM89.5 439.5h4v3h-4zM93.5 439.5h4v3h-4zM97.5 439.5h4v3h-4zM101.5 439.5h6v3h-6zM107.5 439.5h7v3h-7zM114.5 439.5h4v3h-4zM118.5 439.5h4v3h-4zM122.5 439.5h4v3h-4zM126.5 439.5h3v3h-3zM129.5 439.5h3v3h-3zM132.5 439.5h7v3h-7zM139.5 439.5h4v3h-4zM143.5 439.5h6v3h-6zM149.5 439.5h4v3h-4zM153.5 439.5h6v3h-6zM159.5 439.5h4v3h-4zM163.5 439.5h3v3h-3zM93.5 442.5h5v3h-5zM98.5 442.5h7v3h-7zM105.5 442.5h4v3h-4zM109.5 442.5h5v3h-5zM114.5 442.5h5v3h-5zM119.5 442.5h5v3h-5zM124.5 442.5h3v3h-3zM127.5 442.5h3v3h-3zM130.5 442.5h6v3h-6zM136.5 442.5h5v3h-5zM141.5 442.5h3v3h-3zM144.5 442.5h5v3h-5zM149.5 442.5h4v3h-4zM153.5 442.5h4v3h-4zM157.5 442.5h7v3h-7zM91.5 445.5h7v3h-7zM98.5 445.5h3v3h-3zM101.5 445.5h6v3h-6zM107.5 445.5h7v3h-7zM114.5 445.5h5v3h-5zM119.5 445.5h3v3h-3zM122.5 445.5h5v3h-5zM127.5 445.5h4v3h-4zM131.5 445.5h7v3h-7zM138.5 445.5h5v3h-5zM143.5 445.5h7v3h-7zM150.5 445.5h3v3h-3zM153.5 445.5h3v3h-3zM156.5 445.5h3v3h-3zM159.5 445.5h3v3h-3zM89.5 448.5h4v3h-4zM96.5 448.5h3v3h-3zM99.5 448.5h3v3h-3zM102.5 448.5h5v3h-5zM107.5 448.5h3v3h-3zM110.5 448.5h7v3h-7zM117.5 448.5h3v3h-3zM120.5 448.5h4v3h-4zM124.5 448.5h5v3h-5zM129.5 448.5h4v3h-4zM133.5 448.5h3v3h-3zM136.5 448.5h6v3h-6zM142.5 448.5h3v3h-3zM145.5 448.5h3v3h-3zM150.5 448.5h4v3h-4zM154.5 448.5h4v3h-4zM158.5 448.5h5v3h-5zM90.5 451.5h4v3h-4zM94.5 451.5h6v3h-6zM100.5 451.5h7v3h-7zM107.5 451.5h6v3h-6zM113.5 451.5h3v3h-3zM116.5 451.5h3v3h-3zM119.5 451.5h7v3h-7zM126.5 451.5h3v3h-3zM129.5 451.5h4v3h-4zM133.5 451.5h6v3h-6zM139.5 451.5h6v3h-6zM145.5 451.5h5v3h-5zM150.5 451.5h4v3h-4zM154.5 451.5h3v3h-3zM157.5 451.5h3v3h-3zM160.5 451.5h3v3h-3zM93.5 454.5h7v3h-7zM100.5 454.5h4v3h-4zM104.5 454.5h6v3h-6zM110.5 454.5h3v3h-3zM113.5 454.5h3v3h-3zM116.5 454.5h4v3h-4zM120.5 454.5h4v3h-4zM124.5 454.5h7v3h-7zM131.5 454.5h7v3h-7zM138.5 454.5h6v3h-6zM144.5 454.5h6v3h-6zM150.5 454.5h3v3h-3zM153.5 454.5h3v3h-3zM156.5 454.5h7v3h-7zM91.5 457.5h7v3h-7zM98.5 457.5h7v3h-7zM105.5 457.5h5v3h-5zM110.5 457.5h3v3h-3zM113.5 457.5h5v3h-5zM118.5 457.5h5v3h-5zM123.5 457.5h4v3h-4zM127.5 457.5h5v3h-5zM132.5 457.5h4v3h-4zM136.5 457.5h5v3h-5zM141.5 457.5h3v3h-3zM144.5 457.5h4v3h-4zM148.5 457.5h5v3h-5zM153.5 457.5h5v3h-5zM158.5 457.5h6v3h-6zM91.5 460.5h3v3h-3zM94.5 460.5h6v3h-6zM100.5 460.5h4v3h-4zM104.5 460.5h7v3h-7zM111.5 460.5h5v3h-5zM116.5 460.5h4v3h-4zM120.5 460.5h6v3h-6zM126.5 460.5h4v3h-4zM130.5 460.5h7v3h-7zM137.5 460.5h6v3h-6zM143.5 460.5h5v3h-5zM148.5 460.5h6v3h-6zM154.5 460.5h3v3h-3zM157.5 460.5h6v3h-6zM91.5 463.5h4v3h-4zM95.5 463.5h4v3h-4zM99.5 463.5h4v3h-4zM103.5 463.5h5v3h-5zM108.5 463.5h7v3h-7zM115.5 463.5h7v3h-7zM122.5 463.5h3v3h-3zM126.5 463.5h5v3h-5zM131.5 463.5h6v3h-6zM137.5 463.5h5v3h-5zM142.5 463.5h3v3h-3zM145.5 463.5h3v3h-3zM148.5 463.5h3v3h-3zM151.5 463.5h5v3h-5zM156.5 463.5h7v3h-7z" fill="#707070" stroke="#000" stroke-width="1"/>
<path d="M94.5 433.5h5v2h-5zM99.5 433.5h4v2h-4zM103.5 433.5h4v2h-4zM107.5 433.5h7v2h-7zM114.5 433.5h5v2h-5zM119.5 433.5h5v2h-5zM124.5 433.5h7v2h-7zM131.5 433.5h5v2h-5z" fill="#666" stroke="#000" stroke-width="1"/>
<path d="M136.5 433.5h3v2h-3z" fill="#bbb" stroke="#000" stroke-width="1"/>
<path d="M139.5 433.5h3v2h-3zM142.5 433.5h3v2h-3zM145.5 433.5h7v2h-7zM152.5 433.5h7v2h-7zM94.5 436.5h7v2h-7zM101.5 436.5h4v2h-4zM105.5 436.5h5v2h-5zM110.5 436.5h4v2h-4z" fill="#666" stroke="#000" stroke-width="1"/>
<path d="M114.5 436.5h3v2h-3zM117.5 436.5h3v2h-3z" fill="#bbb" stroke="#000" stroke-width="1"/>
<path d="M120.5 436.5h7v2h-7z" fill="#666" stroke="#000" stroke-width="1"/>
<path d="M127.5 436.5h3v2h-3z" fill="#bbb" stroke="#000" stroke-width="1"/>
<path d="M130.5 436.5h5v2h-5zM135.5 436.5h7v2h-7zM142.5 436.5h4v2h-4zM146.5 436.5h5v2h-5z" fill="#666" stroke="#000" stroke-width="1"/>
<path d="M151.5 436.5h3v2h-3zM154.5 436.5h3v2h-3z" fill="#bbb" stroke="#000" stroke-width="1"/>
<path d="M157.5 436.5h5v2h-5z" fill="#666" stroke="#000" stroke-width="1"/>
<path d="M94.5 439.5h3v2h-3z" fill="#bbb" stroke="#000" stroke-width="1"/>
<path d="M97.5 439.5h5v2h-5zM102.5 439.5h7v2h-7zM109.5 439.5h3v2h-3zM112.5 439.5h6v2h-6z" fill="#666" stroke="#000" stroke-width="1"/>
<path d="M118.5 439.5h3v2h-3z" fill="#bbb" stroke="#000" stroke-width="1"/>
<path d="M124.5 439.5h5v2h-5zM129.5 439.5h6v2h-6zM135.5 439.5h7v2h-7zM142.5 439.5h5v2h-5zM147.5 439.5h6v2h-6zM153.5 439.5h6v2h-6zM95.5 442.5h6v2h-6zM101.5 442.5h7v2h-7zM108.5 442.5h7v2h-7zM115.5 442.5h7v2h-7zM122.5 442.5h5v2h-5z" fill="#666" stroke="#000" stroke-width="1"/>
<path d="M127.5 442.5h3v2h-3z" fill="#bbb" stroke="#000" stroke-width="1"/>
<path d="M130.5 442.5h5v2h-5zM135.5 442.5h7v2h-7zM142.5 442.5h7v2h-7zM149.5 442.5h6v2h-6zM155.5 442.5h7v2h-7z" fill="#666" stroke="#000" stroke-width="1"/>
<path d="M94.5 445.5h3v2h-3z" fill="#bbb" stroke="#000" stroke-width="1"/>
<path d="M97.5 445.5h7v2h-7zM104.5 445.5h7v2h-7zM111.5 445.5h6v2h-6zM117.5 445.5h5v2h-5zM122.5 445.5h6v2h-6zM128.5 445.5h4v2h-4zM132.5 445.5h6v2h-6zM138.5 445.5h5v2h-5zM143.5 445.5h4v2h-4zM147.5 445.5h6v2h-6zM153.5 445.5h3v2h-3zM156.5 445.5h5v2h-5z" fill="#666" stroke="#000" stroke-width="1"/>
<path d="M96.5 448.5h3v2h-3z" fill="#bbb" stroke="#000" stroke-width="1"/>
<path d="M99.5 448.5h7v2h-7zM106.5 448.5h4v2h-4zM110.5 448.5h5v2h-5zM115.5 448.5h3v2h-3zM118.5 448.5h5v2h-5zM123.5 448.5h5v2h-5zM128.5 448.5h5v2h-5zM133.5 448.5h7v2h-7zM140.5 448.5h6v2h-6zM146.5 448.5h3v2h-3zM149.5 448.5h7v2h-7zM156.5 448.5h7v2h-7zM94.5 451.5h7v2h-7zM101.5 451.5h4v2h-4zM105.5 451.5h6v2h-6zM111.5 451.5h3v2h-3zM114.5 451.5h5v2h-5zM119.5 451.5h5v2h-5zM124.5 451.5h5v2h-5zM129.5 451.5h6v2h-6zM135.5 451.5h5v2h-5zM140.5 451.5h7v2h-7zM147.5 451.5h3v2h-3zM150.5 451.5h6v2h-6zM156.5 451.5h3v2h-3zM97.5 454.5h7v2h-7zM104.5 454.5h6v2h-6zM112.5 454.5h7v2h-7zM119.5 454.5h3v2h-3zM122.5 454.5h4v2h-4zM126.5 454.5h6v2h-6zM132.5 454.5h6v2h-6zM138.5 454.5h6v2h-6zM144.5 454.5h5v2h-5zM149.5 454.5h4v2h-4z" fill="#666" stroke="#000" stroke-width="1"/>
<path d="M153.5 454.5h3v2h-3z" fill="#bbb" stroke="#000" stroke-width="1"/>
<path d="M156.5 454.5h5v2h-5zM92.5 457.5h3v2h-3zM95.5 457.5h3v2h-3zM98.5 457.5h5v2h-5zM103.5 457.5h7v2h-7zM110.5 457.5h3v2h-3zM113.5 457.5h7v2h-7zM120.5 457.5h4v2h-4z" fill="#666" stroke="#000" stroke-width="1"/>
<path d="M124.5 457.5h3v2h-3z" fill="#bbb" stroke="#000" stroke-width="1"/>
<path d="M127.5 457.5h3v2h-3zM130.5 457.5h7v2h-7zM138.5 457.5h5v2h-5zM143.5 457.5h4v2h-4zM147.5 457.5h4v2h-4zM151.5 457.5h4v2h-4zM155.5 457.5h5v2h-5zM93.5 460.5h4v2h-4z" fill="#666" stroke="#000" stroke-width="1"/>
<path d="M97.5 460.5h3v2h-3z" fill="#bbb" stroke="#000" stroke-width="1"/>
<path d="M100.5 460.5h6v2h-6zM106.5 460.5h4v2h-4zM110.5 460.5h4v2h-4zM114.5 460.5h7v2h-7zM121.5 460.5h6v2h-6zM127.5 460.5h3v2h-3zM130.5 460.5h7v2h-7zM137.5 460.5h6v2h-6z" fill="#666" stroke="#000" stroke-width="1"/>
<path d="M143.5 460.5h3v2h-3z" fill="#bbb" stroke="#000" stroke-width="1"/>
<path d="M146.5 460.5h3v2h-3zM149.5 460.5h3v2h-3zM152.5 460.5h6v2h-6zM158.5 460.5h3v2h-3zM95.5 463.5h3v2h-3zM98.5 463.5h7v2h-7zM105.5 463.5h4v2h-4zM109.5 463.5h5v2h-5zM114.5 463.5h6v2h-6zM120.5 463.5h7v2h-7zM127.5 463.5h6v2h-6zM133.5 463.5h3v2h-3zM136.5 463.5h5v2h-5zM141.5 463.5h5v2h-5zM146.5 463.5h5v2h-5zM151.5 463.5h4v2h-4z" fill="#666" stroke="#000" stroke-width="1"/>
<path d="M155.5 463.5h3v2h-3z" fill="#bbb" stroke="#000" stroke-width="1"/>
<path d="M158.5 463.5h5v2h-5z" fill="#666" stroke="#000" stroke-width="1"/>
<path d="M377.5 334.5h6v3h-6zM384.5 332.5h3v3h-3zM384.5 341.5h3v3h-3zM394.5 341.5h3v3h-3zM401.5 335.5h3v3h-3zM408.5 341.5h3v3h-3zM414.5 341.5h3v3h-3zM411.5 334.5h6v3h-6zM431.5 338.5h3v3h-3zM377.5 361.5h6v3h-6zM384.5 358.5h3v3h-3zM400.5 361.5h3v3h-3zM366.5 367.5h3v3h-3zM369.5 369.5h3v3h-3zM371.5 371.5h3v3h-3zM373.5 373.5h3v3h-3zM384.5 367.5h3v3h-3zM394.5 367.5h3v3h-3zM407.5 367.5h3v3h-3zM404.5 370.5h5v3h-5zM390.5 373.5h3v3h-3zM397.5 373.5h3v3h-3zM400.5 376.5h3v3h-3zM364.5 376.5h3v3h-3zM367.5 378.5h19v3h-19zM367.5 382.5h9v3h-9zM368.5 385.5h6v3h-6zM391.5 379.5h9v3h-9zM411.5 382.5h3v3h-3zM431.5 379.5h3v3h-3zM378.5 385.5h3v3h-3zM391.5 385.5h5v3h-5zM400.5 385.5h3v3h-3zM374.5 390.5h8v3h-8zM364.5 391.5h3v3h-3zM388.5 388.5h5v3h-5zM397.5 388.5h15v3h-15zM398.5 391.5h13v3h-13zM395.5 394.5h3v3h-3zM400.5 394.5h3v3h-3zM406.5 394.5h3v3h-3zM421.5 394.5h3v3h-3zM397.5 397.5h9v3h-9zM412.5 397.5h5v3h-5zM372.5 400.5h5v3h-5zM381.5 403.5h3v3h-3zM389.5 403.5h10v3h-10zM390.5 406.5h9v3h-9zM404.5 402.5h3v3h-3zM413.5 406.5h3v3h-3zM420.5 404.5h9v3h-9zM421.5 407.5h8v3h-8zM375.5 406.5h3v3h-3zM368.5 433.5h3v3h-3zM421.5 463.5h3v3h-3z" fill="#6a6a6a" stroke="#000" stroke-width="1"/>
<path d="M382.5 404.5h3v3h-3zM405.5 404.5h3v3h-3zM379.5 407.5h3v3h-3zM386.5 407.5h3v3h-3zM389.5 407.5h9v3h-9zM398.5 407.5h3v3h-3zM401.5 407.5h3v3h-3zM404.5 407.5h6v3h-6zM410.5 407.5h6v3h-6zM416.5 407.5h6v3h-6zM426.5 407.5h3v3h-3zM365.5 367.5h3v3h-3zM367.5 370.5h3v3h-3zM374.5 370.5h3v3h-3zM369.5 373.5h3v3h-3zM376.5 373.5h6v3h-6zM382.5 373.5h3v3h-3zM369.5 376.5h3v3h-3zM380.5 376.5h3v3h-3zM383.5 376.5h3v3h-3zM381.5 382.5h3v3h-3zM366.5 385.5h6v3h-6zM393.5 377.5h3v3h-3zM398.5 380.5h6v3h-6zM399.5 383.5h9v3h-9zM408.5 383.5h3v3h-3zM392.5 386.5h3v3h-3zM398.5 386.5h9v3h-9zM402.5 389.5h3v3h-3zM398.5 392.5h3v3h-3zM388.5 395.5h3v3h-3zM395.5 395.5h3v3h-3zM398.5 395.5h3v3h-3zM401.5 395.5h3v3h-3zM408.5 395.5h8v3h-8zM395.5 398.5h3v3h-3zM402.5 398.5h3v3h-3zM394.5 401.5h3v3h-3zM408.5 401.5h3v3h-3zM392.5 404.5h9v3h-9zM401.5 404.5h6v3h-6zM399.5 407.5h3v3h-3z" fill="#555" stroke="#000" stroke-width="1"/>
<path d="M371.5 412.5h3v3h-3zM374.5 412.5h3v3h-3zM381.5 412.5h3v3h-3zM384.5 412.5h3v3h-3zM395.5 412.5h3v3h-3zM398.5 412.5h3v3h-3zM405.5 412.5h3v3h-3zM412.5 412.5h3v3h-3zM423.5 412.5h3v3h-3zM426.5 412.5h6v3h-6zM370.5 415.5h3v3h-3zM373.5 415.5h3v3h-3zM376.5 415.5h3v3h-3zM379.5 415.5h3v3h-3zM382.5 415.5h3v3h-3zM389.5 415.5h3v3h-3zM400.5 415.5h9v3h-9zM409.5 415.5h3v3h-3zM424.5 415.5h3v3h-3zM427.5 415.5h3v3h-3zM374.5 418.5h3v3h-3zM377.5 418.5h3v3h-3zM380.5 418.5h3v3h-3zM395.5 418.5h3v3h-3zM398.5 418.5h3v3h-3zM401.5 418.5h3v3h-3zM404.5 418.5h3v3h-3zM407.5 418.5h3v3h-3zM418.5 418.5h3v3h-3zM421.5 418.5h3v3h-3zM424.5 418.5h3v3h-3zM427.5 418.5h3v3h-3zM378.5 421.5h3v3h-3zM385.5 421.5h3v3h-3zM392.5 421.5h3v3h-3zM399.5 421.5h3v3h-3zM406.5 421.5h6v3h-6zM424.5 421.5h3v3h-3zM427.5 421.5h3v3h-3zM377.5 424.5h3v3h-3zM384.5 424.5h3v3h-3zM387.5 424.5h3v3h-3zM390.5 424.5h3v3h-3zM393.5 424.5h3v3h-3zM408.5 424.5h3v3h-3zM411.5 424.5h6v3h-6zM429.5 424.5h3v3h-3zM373.5 427.5h3v3h-3zM376.5 427.5h3v3h-3zM379.5 427.5h3v3h-3zM386.5 427.5h3v3h-3zM389.5 427.5h3v3h-3zM392.5 427.5h3v3h-3zM395.5 427.5h3v3h-3zM398.5 427.5h3v3h-3zM401.5 427.5h3v3h-3zM404.5 427.5h3v3h-3zM423.5 427.5h3v3h-3zM381.5 430.5h3v3h-3zM384.5 430.5h3v3h-3zM391.5 430.5h3v3h-3zM398.5 430.5h3v3h-3zM401.5 430.5h3v3h-3zM404.5 430.5h3v3h-3zM407.5 430.5h9v3h-9zM416.5 430.5h9v3h-9zM429.5 430.5h3v3h-3zM375.5 433.5h3v3h-3zM390.5 433.5h9v3h-9zM403.5 433.5h3v3h-3zM406.5 433.5h3v3h-3zM413.5 433.5h9v3h-9zM422.5 433.5h3v3h-3zM425.5 433.5h3v3h-3zM432.5 433.5h3v3h-3zM383.5 436.5h3v3h-3zM386.5 436.5h3v3h-3zM389.5 436.5h6v3h-6zM395.5 436.5h3v3h-3zM398.5 436.5h3v3h-3zM413.5 436.5h3v3h-3zM424.5 436.5h3v3h-3zM427.5 436.5h3v3h-3zM374.5 439.5h3v3h-3zM377.5 439.5h3v3h-3zM380.5 439.5h3v3h-3zM383.5 439.5h3v3h-3zM386.5 439.5h3v3h-3zM389.5 439.5h9v3h-9zM406.5 439.5h3v3h-3zM409.5 439.5h3v3h-3zM412.5 439.5h3v3h-3zM415.5 439.5h3v3h-3zM426.5 439.5h3v3h-3zM429.5 439.5h3v3h-3zM372.5 442.5h3v3h-3zM387.5 442.5h3v3h-3zM394.5 442.5h3v3h-3zM397.5 442.5h3v3h-3zM420.5 442.5h3v3h-3zM423.5 442.5h3v3h-3zM426.5 442.5h3v3h-3zM373.5 445.5h3v3h-3zM384.5 445.5h3v3h-3zM387.5 445.5h3v3h-3zM390.5 445.5h3v3h-3zM401.5 445.5h6v3h-6zM419.5 445.5h3v3h-3zM422.5 445.5h3v3h-3zM373.5 448.5h3v3h-3zM376.5 448.5h3v3h-3zM383.5 448.5h3v3h-3zM386.5 448.5h3v3h-3zM389.5 448.5h3v3h-3zM392.5 448.5h3v3h-3zM395.5 448.5h3v3h-3zM398.5 448.5h3v3h-3zM413.5 448.5h3v3h-3zM420.5 448.5h3v3h-3zM423.5 448.5h9v3h-9zM375.5 451.5h3v3h-3zM378.5 451.5h3v3h-3zM385.5 451.5h3v3h-3zM388.5 451.5h3v3h-3zM395.5 451.5h9v3h-9zM408.5 451.5h3v3h-3zM411.5 451.5h9v3h-9zM420.5 451.5h3v3h-3zM372.5 454.5h3v3h-3zM379.5 454.5h3v3h-3zM382.5 454.5h3v3h-3zM385.5 454.5h3v3h-3zM392.5 454.5h3v3h-3zM395.5 454.5h9v3h-9zM412.5 454.5h3v3h-3zM419.5 454.5h3v3h-3zM430.5 454.5h3v3h-3zM391.5 457.5h3v3h-3zM394.5 457.5h3v3h-3zM397.5 457.5h3v3h-3zM404.5 457.5h9v3h-9zM413.5 457.5h3v3h-3zM424.5 457.5h6v3h-6zM376.5 460.5h3v3h-3zM387.5 460.5h3v3h-3zM414.5 460.5h3v3h-3zM417.5 460.5h9v3h-9zM426.5 460.5h3v3h-3zM395.5 463.5h3v3h-3zM406.5 463.5h3v3h-3zM409.5 463.5h3v3h-3zM416.5 463.5h3v3h-3zM419.5 463.5h3v3h-3zM426.5 463.5h3v3h-3z" fill="#5a5a5a" stroke="#000" stroke-width="1"/>
<path d="M388.5 443.5h3v3h-3z" fill="#999" stroke="#000" stroke-width="1"/>
<path d="M391.5 443.5h3v3h-3zM394.5 443.5h7v3h-7zM401.5 443.5h3v3h-3zM404.5 443.5h3v3h-3zM407.5 443.5h3v3h-3zM410.5 443.5h5v3h-5zM388.5 446.5h7v3h-7zM395.5 446.5h6v3h-6zM401.5 446.5h7v3h-7zM408.5 446.5h5v3h-5zM414.5 446.5h5v3h-5zM385.5 449.5h5v3h-5zM393.5 449.5h7v3h-7zM404.5 449.5h3v3h-3zM407.5 449.5h4v3h-4zM411.5 449.5h4v3h-4zM415.5 449.5h3v3h-3zM388.5 452.5h6v3h-6zM397.5 452.5h3v3h-3zM404.5 452.5h6v3h-6zM412.5 452.5h7v3h-7zM385.5 455.5h7v3h-7zM392.5 455.5h4v3h-4zM396.5 455.5h3v3h-3zM399.5 455.5h4v3h-4zM403.5 455.5h3v3h-3zM406.5 455.5h5v3h-5z" fill="#555" stroke="#000" stroke-width="1"/>
<path d="M411.5 455.5h3v3h-3z" fill="#999" stroke="#000" stroke-width="1"/>
<path d="M414.5 455.5h5v3h-5z" fill="#555" stroke="#000" stroke-width="1"/>
<path d="M388.5 458.5h3v3h-3z" fill="#999" stroke="#000" stroke-width="1"/>
<path d="M392.5 458.5h7v3h-7zM399.5 458.5h6v3h-6z" fill="#555" stroke="#000" stroke-width="1"/>
<path d="M408.5 458.5h3v3h-3z" fill="#999" stroke="#000" stroke-width="1"/>
<path d="M411.5 458.5h5v3h-5zM416.5 458.5h3v3h-3zM388.5 461.5h7v3h-7zM397.5 461.5h6v3h-6zM403.5 461.5h6v3h-6zM409.5 461.5h3v3h-3zM415.5 461.5h5v3h-5z" fill="#555" stroke="#000" stroke-width="1"/>
<path d="M93.5 449.5h7v8h-7zM101.5 449.5h7v8h-7z" fill="#666" stroke="#000" stroke-width="1"/>
<text x="1.1" y="18.6" font-family="Liberation Sans" font-size="24.5" font-weight="bold" text-anchor="start" stroke="#000" stroke-width="0.16">A</text>
<text x="264.8" y="18.7" font-family="Liberation Sans" font-size="24.5" font-weight="bold" text-anchor="start" stroke="#000" stroke-width="0.16">B</text>
<text x="0" y="267.8" font-family="Liberation Sans" font-size="24.5" font-weight="bold" text-anchor="start" stroke="#000" stroke-width="0.16">C</text>
<text x="264.9" y="267.9" font-family="Liberation Sans" font-size="24.5" font-weight="bold" text-anchor="start" stroke="#000" stroke-width="0.16">D</text>
<rect x="26.2" y="21.7" width="215.8" height="189.8" fill="none" stroke="#000" stroke-width="1.7"/>
<line x1="61.6" y1="211.5" x2="61.6" y2="215.5" stroke="#000" stroke-width="1"/>
<line x1="94" y1="211.5" x2="94" y2="215.5" stroke="#000" stroke-width="1"/>
<line x1="127.6" y1="211.5" x2="127.6" y2="215.5" stroke="#000" stroke-width="1"/>
<line x1="161.4" y1="211.5" x2="161.4" y2="215.5" stroke="#000" stroke-width="1"/>
<line x1="195" y1="211.5" x2="195" y2="215.5" stroke="#000" stroke-width="1"/>
<line x1="228.6" y1="211.5" x2="228.6" y2="215.5" stroke="#000" stroke-width="1"/>
<text x="21.4" y="229.5" font-family="Liberation Sans" font-size="11" font-weight="normal" text-anchor="start" stroke="#000" stroke-width="0.35">0</text>
<text x="48.0" y="228" font-family="Liberation Sans" font-size="11" font-weight="normal" text-anchor="start" stroke="#000" stroke-width="0.35">10</text>
<text x="81.4" y="228" font-family="Liberation Sans" font-size="11" font-weight="normal" text-anchor="start" stroke="#000" stroke-width="0.35">20</text>
<text x="114.9" y="228" font-family="Liberation Sans" font-size="11" font-weight="normal" text-anchor="start" stroke="#000" stroke-width="0.35">30</text>
<text x="148.0" y="228" font-family="Liberation Sans" font-size="11" font-weight="normal" text-anchor="start" stroke="#000" stroke-width="0.35">40</text>
<text x="186.1" y="228" font-family="Liberation Sans" font-size="11" font-weight="normal" text-anchor="start" stroke="#000" stroke-width="0.35">50</text>
<text x="215.5" y="228" font-family="Liberation Sans" font-size="11" font-weight="normal" text-anchor="start" stroke="#000" stroke-width="0.35">60</text>
<text x="132.5" y="239" font-family="Liberation Sans" font-size="11" font-weight="bold" text-anchor="start" stroke="#000" stroke-width="0.16">FS</text>
<text x="0" y="0" transform="translate(22.6,206.2) rotate(-90) scale(1.15,1)" font-family="Liberation Sans" font-size="10" font-weight="normal" text-anchor="start" stroke="#000" stroke-width="0.35">0</text>
<text x="0" y="0" transform="translate(22.6,186.5) rotate(-90) scale(1.15,1)" font-family="Liberation Sans" font-size="10" font-weight="normal" text-anchor="start" stroke="#000" stroke-width="0.35">10</text>
<text x="0" y="0" transform="translate(22.6,157) rotate(-90) scale(1.15,1)" font-family="Liberation Sans" font-size="10" font-weight="normal" text-anchor="start" stroke="#000" stroke-width="0.35">20</text>
<text x="0" y="0" transform="translate(22.6,125.8) rotate(-90) scale(1.15,1)" font-family="Liberation Sans" font-size="10" font-weight="normal" text-anchor="start" stroke="#000" stroke-width="0.35">30</text>
<text x="0" y="0" transform="translate(22.6,96.2) rotate(-90) scale(1.15,1)" font-family="Liberation Sans" font-size="10" font-weight="normal" text-anchor="start" stroke="#000" stroke-width="0.35">40</text>
<text x="0" y="0" transform="translate(22.6,71.9) rotate(-90) scale(1.15,1)" font-family="Liberation Sans" font-size="10" font-weight="normal" text-anchor="start" stroke="#000" stroke-width="0.35">50</text>
<text x="0" y="0" transform="translate(22.6,36.8) rotate(-90) scale(1.15,1)" font-family="Liberation Sans" font-size="10" font-weight="normal" text-anchor="start" stroke="#000" stroke-width="0.35">60</text>
<line x1="23" y1="33.4" x2="26" y2="33.4" stroke="#000" stroke-width="1"/>
<line x1="23" y1="62.6" x2="26" y2="62.6" stroke="#000" stroke-width="1"/>
<line x1="23" y1="93.5" x2="26" y2="93.5" stroke="#000" stroke-width="1"/>
<line x1="23" y1="122.5" x2="26" y2="122.5" stroke="#000" stroke-width="1"/>
<line x1="23" y1="152.4" x2="26" y2="152.4" stroke="#000" stroke-width="1"/>
<line x1="23" y1="181.6" x2="26" y2="181.6" stroke="#000" stroke-width="1"/>
<line x1="23" y1="204" x2="26" y2="204" stroke="#000" stroke-width="1"/>
<text x="0" y="0" transform="translate(9.3,134.7) rotate(-90)" font-family="Liberation Sans" font-size="11.3" font-weight="bold" text-anchor="start" stroke="#000" stroke-width="0.16">SSC</text>
<polyline points="98.5,211.5 98.5,170 180,170 180,211.5" fill="none" stroke="#000" stroke-width="1.3"/>
<text x="191" y="205.7" font-family="Liberation Serif" font-size="14.5" font-weight="bold" text-anchor="start" stroke="#000" stroke-width="0.16">R1</text>
<rect x="299.5" y="18.5" width="212.5" height="192.3" fill="none" stroke="#000" stroke-width="1.7"/>
<line x1="355.6" y1="18.5" x2="355.6" y2="210.8" stroke="#000" stroke-width="3"/>
<line x1="299.5" y1="163.3" x2="512" y2="163.3" stroke="#000" stroke-width="2.6"/>
<line x1="295.0" y1="210.8" x2="299.5" y2="210.8" stroke="#000" stroke-width="1.1"/>
<line x1="296.0" y1="196.32948810843243" x2="299.5" y2="196.32948810843243" stroke="#000" stroke-width="1"/>
<line x1="296.0" y1="187.86478128562584" x2="299.5" y2="187.86478128562584" stroke="#000" stroke-width="1"/>
<line x1="296.0" y1="181.85897621686485" x2="299.5" y2="181.85897621686485" stroke="#000" stroke-width="1"/>
<line x1="296.0" y1="177.2005118915676" x2="299.5" y2="177.2005118915676" stroke="#000" stroke-width="1"/>
<line x1="296.0" y1="173.39426939405826" x2="299.5" y2="173.39426939405826" stroke="#000" stroke-width="1"/>
<line x1="296.0" y1="170.1761372165147" x2="299.5" y2="170.1761372165147" stroke="#000" stroke-width="1"/>
<line x1="296.0" y1="167.3884643252973" x2="299.5" y2="167.3884643252973" stroke="#000" stroke-width="1"/>
<line x1="296.0" y1="164.92956257125167" x2="299.5" y2="164.92956257125167" stroke="#000" stroke-width="1"/>
<line x1="295.0" y1="162.73000000000002" x2="299.5" y2="162.73000000000002" stroke="#000" stroke-width="1.1"/>
<line x1="296.0" y1="148.25948810843244" x2="299.5" y2="148.25948810843244" stroke="#000" stroke-width="1"/>
<line x1="296.0" y1="139.79478128562585" x2="299.5" y2="139.79478128562585" stroke="#000" stroke-width="1"/>
<line x1="296.0" y1="133.78897621686485" x2="299.5" y2="133.78897621686485" stroke="#000" stroke-width="1"/>
<line x1="296.0" y1="129.1305118915676" x2="299.5" y2="129.1305118915676" stroke="#000" stroke-width="1"/>
<line x1="296.0" y1="125.32426939405826" x2="299.5" y2="125.32426939405826" stroke="#000" stroke-width="1"/>
<line x1="296.0" y1="122.1061372165147" x2="299.5" y2="122.1061372165147" stroke="#000" stroke-width="1"/>
<line x1="296.0" y1="119.3184643252973" x2="299.5" y2="119.3184643252973" stroke="#000" stroke-width="1"/>
<line x1="296.0" y1="116.85956257125167" x2="299.5" y2="116.85956257125167" stroke="#000" stroke-width="1"/>
<line x1="295.0" y1="114.66000000000001" x2="299.5" y2="114.66000000000001" stroke="#000" stroke-width="1.1"/>
<line x1="296.0" y1="100.18948810843244" x2="299.5" y2="100.18948810843244" stroke="#000" stroke-width="1"/>
<line x1="296.0" y1="91.72478128562584" x2="299.5" y2="91.72478128562584" stroke="#000" stroke-width="1"/>
<line x1="296.0" y1="85.71897621686486" x2="299.5" y2="85.71897621686486" stroke="#000" stroke-width="1"/>
<line x1="296.0" y1="81.06051189156759" x2="299.5" y2="81.06051189156759" stroke="#000" stroke-width="1"/>
<line x1="296.0" y1="77.25426939405827" x2="299.5" y2="77.25426939405827" stroke="#000" stroke-width="1"/>
<line x1="296.0" y1="74.03613721651469" x2="299.5" y2="74.03613721651469" stroke="#000" stroke-width="1"/>
<line x1="296.0" y1="71.24846432529728" x2="299.5" y2="71.24846432529728" stroke="#000" stroke-width="1"/>
<line x1="296.0" y1="68.78956257125166" x2="299.5" y2="68.78956257125166" stroke="#000" stroke-width="1"/>
<line x1="295.0" y1="66.59" x2="299.5" y2="66.59" stroke="#000" stroke-width="1.1"/>
<line x1="296.0" y1="52.11948810843243" x2="299.5" y2="52.11948810843243" stroke="#000" stroke-width="1"/>
<line x1="296.0" y1="43.65478128562583" x2="299.5" y2="43.65478128562583" stroke="#000" stroke-width="1"/>
<line x1="296.0" y1="37.64897621686485" x2="299.5" y2="37.64897621686485" stroke="#000" stroke-width="1"/>
<line x1="296.0" y1="32.99051189156758" x2="299.5" y2="32.99051189156758" stroke="#000" stroke-width="1"/>
<line x1="296.0" y1="29.184269394058255" x2="299.5" y2="29.184269394058255" stroke="#000" stroke-width="1"/>
<line x1="296.0" y1="25.96613721651468" x2="299.5" y2="25.96613721651468" stroke="#000" stroke-width="1"/>
<line x1="296.0" y1="23.178464325297277" x2="299.5" y2="23.178464325297277" stroke="#000" stroke-width="1"/>
<line x1="296.0" y1="20.719562571251657" x2="299.5" y2="20.719562571251657" stroke="#000" stroke-width="1"/>
<line x1="295.0" y1="18.52000000000001" x2="299.5" y2="18.52000000000001" stroke="#000" stroke-width="1.1"/>
<text x="311.29999999999995" y="226" font-family="Liberation Sans" font-size="11.5" font-weight="normal" text-anchor="start" stroke="#000" stroke-width="0.35">0</text>
<text x="331.9" y="226" font-family="Liberation Sans" font-size="11.5" font-weight="normal" text-anchor="start" stroke="#000" stroke-width="0.35">10</text>
<text x="365.2" y="226" font-family="Liberation Sans" font-size="11.5" font-weight="normal" text-anchor="start" stroke="#000" stroke-width="0.35">20</text>
<text x="398.2" y="226" font-family="Liberation Sans" font-size="11.5" font-weight="normal" text-anchor="start" stroke="#000" stroke-width="0.35">30</text>
<text x="431.4" y="226" font-family="Liberation Sans" font-size="11.5" font-weight="normal" text-anchor="start" stroke="#000" stroke-width="0.35">40</text>
<text x="465.0" y="226" font-family="Liberation Sans" font-size="11.5" font-weight="normal" text-anchor="start" stroke="#000" stroke-width="0.35">50</text>
<text x="499.2" y="226" font-family="Liberation Sans" font-size="11.5" font-weight="normal" text-anchor="start" stroke="#000" stroke-width="0.35">60</text>
<line x1="332.8" y1="210.8" x2="332.8" y2="214" stroke="#000" stroke-width="1"/>
<line x1="366.3" y1="210.8" x2="366.3" y2="214" stroke="#000" stroke-width="1"/>
<line x1="399.4" y1="210.8" x2="399.4" y2="214" stroke="#000" stroke-width="1"/>
<line x1="432.5" y1="210.8" x2="432.5" y2="214" stroke="#000" stroke-width="1"/>
<line x1="465.6" y1="210.8" x2="465.6" y2="214" stroke="#000" stroke-width="1"/>
<line x1="499" y1="210.8" x2="499" y2="214" stroke="#000" stroke-width="1"/>
<text x="382" y="239.8" font-family="Liberation Sans" font-size="11.6" font-weight="bold" text-anchor="start" stroke="#000" stroke-width="0.16">CD34-PE</text>
<text x="0" y="0" transform="translate(297.2,37.7) rotate(-90)" font-family="Liberation Sans" font-size="11.5" font-weight="normal" text-anchor="start" stroke="#000" stroke-width="0.35">1000</text>
<text x="0" y="0" transform="translate(297.2,72.7) rotate(-90)" font-family="Liberation Sans" font-size="11.5" font-weight="normal" text-anchor="start" stroke="#000" stroke-width="0.35">100</text>
<text x="0" y="0" transform="translate(297.2,117.6) rotate(-90)" font-family="Liberation Sans" font-size="11.5" font-weight="normal" text-anchor="start" stroke="#000" stroke-width="0.35">10</text>
<text x="0" y="0" transform="translate(297.2,162.7) rotate(-90)" font-family="Liberation Sans" font-size="11.5" font-weight="normal" text-anchor="start" stroke="#000" stroke-width="0.35">1</text>
<text x="0" y="0" transform="translate(297.2,203.5) rotate(-90)" font-family="Liberation Sans" font-size="11.5" font-weight="normal" text-anchor="start" stroke="#000" stroke-width="0.35">.1</text>
<text x="0" y="0" transform="translate(281,143.5) rotate(-90)" font-family="Liberation Sans" font-size="11.6" font-weight="bold" text-anchor="start" stroke="#000" stroke-width="0.16">CD71-FITC</text>
<text x="482.5" y="150" font-family="Liberation Serif" font-size="15" font-weight="bold" text-anchor="start" stroke="#000" stroke-width="0.16">R2</text>
<rect x="25.5" y="276" width="214.5" height="191" fill="none" stroke="#000" stroke-width="1.7"/>
<line x1="89.3" y1="276" x2="89.3" y2="467" stroke="#000" stroke-width="3"/>
<line x1="25.5" y1="425.6" x2="240" y2="425.6" stroke="#000" stroke-width="3"/>
<line x1="21.0" y1="467.0" x2="25.5" y2="467.0" stroke="#000" stroke-width="1.1"/>
<line x1="22.0" y1="452.6258177070449" x2="25.5" y2="452.6258177070449" stroke="#000" stroke-width="1"/>
<line x1="22.0" y1="444.21746008713615" x2="25.5" y2="444.21746008713615" stroke="#000" stroke-width="1"/>
<line x1="22.0" y1="438.2516354140898" x2="25.5" y2="438.2516354140898" stroke="#000" stroke-width="1"/>
<line x1="22.0" y1="433.6241822929551" x2="25.5" y2="433.6241822929551" stroke="#000" stroke-width="1"/>
<line x1="22.0" y1="429.843277794181" x2="25.5" y2="429.843277794181" stroke="#000" stroke-width="1"/>
<line x1="22.0" y1="426.64656858931926" x2="25.5" y2="426.64656858931926" stroke="#000" stroke-width="1"/>
<line x1="22.0" y1="423.8774531211347" x2="25.5" y2="423.8774531211347" stroke="#000" stroke-width="1"/>
<line x1="22.0" y1="421.43492017427224" x2="25.5" y2="421.43492017427224" stroke="#000" stroke-width="1"/>
<line x1="21.0" y1="419.25" x2="25.5" y2="419.25" stroke="#000" stroke-width="1.1"/>
<line x1="22.0" y1="404.8758177070449" x2="25.5" y2="404.8758177070449" stroke="#000" stroke-width="1"/>
<line x1="22.0" y1="396.46746008713615" x2="25.5" y2="396.46746008713615" stroke="#000" stroke-width="1"/>
<line x1="22.0" y1="390.5016354140898" x2="25.5" y2="390.5016354140898" stroke="#000" stroke-width="1"/>
<line x1="22.0" y1="385.8741822929551" x2="25.5" y2="385.8741822929551" stroke="#000" stroke-width="1"/>
<line x1="22.0" y1="382.093277794181" x2="25.5" y2="382.093277794181" stroke="#000" stroke-width="1"/>
<line x1="22.0" y1="378.89656858931926" x2="25.5" y2="378.89656858931926" stroke="#000" stroke-width="1"/>
<line x1="22.0" y1="376.1274531211347" x2="25.5" y2="376.1274531211347" stroke="#000" stroke-width="1"/>
<line x1="22.0" y1="373.68492017427224" x2="25.5" y2="373.68492017427224" stroke="#000" stroke-width="1"/>
<line x1="21.0" y1="371.5" x2="25.5" y2="371.5" stroke="#000" stroke-width="1.1"/>
<line x1="22.0" y1="357.1258177070449" x2="25.5" y2="357.1258177070449" stroke="#000" stroke-width="1"/>
<line x1="22.0" y1="348.71746008713615" x2="25.5" y2="348.71746008713615" stroke="#000" stroke-width="1"/>
<line x1="22.0" y1="342.7516354140898" x2="25.5" y2="342.7516354140898" stroke="#000" stroke-width="1"/>
<line x1="22.0" y1="338.1241822929551" x2="25.5" y2="338.1241822929551" stroke="#000" stroke-width="1"/>
<line x1="22.0" y1="334.343277794181" x2="25.5" y2="334.343277794181" stroke="#000" stroke-width="1"/>
<line x1="22.0" y1="331.14656858931926" x2="25.5" y2="331.14656858931926" stroke="#000" stroke-width="1"/>
<line x1="22.0" y1="328.3774531211347" x2="25.5" y2="328.3774531211347" stroke="#000" stroke-width="1"/>
<line x1="22.0" y1="325.93492017427224" x2="25.5" y2="325.93492017427224" stroke="#000" stroke-width="1"/>
<line x1="21.0" y1="323.75" x2="25.5" y2="323.75" stroke="#000" stroke-width="1.1"/>
<line x1="22.0" y1="309.3758177070449" x2="25.5" y2="309.3758177070449" stroke="#000" stroke-width="1"/>
<line x1="22.0" y1="300.96746008713615" x2="25.5" y2="300.96746008713615" stroke="#000" stroke-width="1"/>
<line x1="22.0" y1="295.0016354140898" x2="25.5" y2="295.0016354140898" stroke="#000" stroke-width="1"/>
<line x1="22.0" y1="290.3741822929551" x2="25.5" y2="290.3741822929551" stroke="#000" stroke-width="1"/>
<line x1="22.0" y1="286.593277794181" x2="25.5" y2="286.593277794181" stroke="#000" stroke-width="1"/>
<line x1="22.0" y1="283.39656858931926" x2="25.5" y2="283.39656858931926" stroke="#000" stroke-width="1"/>
<line x1="22.0" y1="280.6274531211347" x2="25.5" y2="280.6274531211347" stroke="#000" stroke-width="1"/>
<line x1="22.0" y1="278.18492017427224" x2="25.5" y2="278.18492017427224" stroke="#000" stroke-width="1"/>
<line x1="21.0" y1="276.0" x2="25.5" y2="276.0" stroke="#000" stroke-width="1.1"/>
<text x="27.2" y="484.3" font-family="Liberation Sans" font-size="11" font-weight="normal" text-anchor="start" stroke="#000" stroke-width="0.35">0</text>
<text x="48.7" y="484.3" font-family="Liberation Sans" font-size="11" font-weight="normal" text-anchor="start" stroke="#000" stroke-width="0.35">10</text>
<text x="80.7" y="484.3" font-family="Liberation Sans" font-size="11" font-weight="normal" text-anchor="start" stroke="#000" stroke-width="0.35">20</text>
<text x="114.7" y="484.3" font-family="Liberation Sans" font-size="11" font-weight="normal" text-anchor="start" stroke="#000" stroke-width="0.35">30</text>
<text x="147.5" y="484.3" font-family="Liberation Sans" font-size="11" font-weight="normal" text-anchor="start" stroke="#000" stroke-width="0.35">40</text>
<text x="181.5" y="484.3" font-family="Liberation Sans" font-size="11" font-weight="normal" text-anchor="start" stroke="#000" stroke-width="0.35">50</text>
<text x="214.5" y="484.3" font-family="Liberation Sans" font-size="11" font-weight="normal" text-anchor="start" stroke="#000" stroke-width="0.35">60</text>
<text x="98.5" y="500.2" font-family="Liberation Sans" font-size="11.6" font-weight="bold" text-anchor="start" stroke="#000" stroke-width="0.16">GlycoA-PE</text>
<line x1="58.5" y1="467" x2="58.5" y2="463.5" stroke="#000" stroke-width="1.2"/>
<line x1="91.8" y1="467" x2="91.8" y2="463.5" stroke="#000" stroke-width="1.2"/>
<line x1="125.6" y1="467" x2="125.6" y2="463.5" stroke="#000" stroke-width="1.2"/>
<line x1="158" y1="467" x2="158" y2="463.5" stroke="#000" stroke-width="1.2"/>
<line x1="193" y1="467" x2="193" y2="463.5" stroke="#000" stroke-width="1.2"/>
<line x1="226.5" y1="467" x2="226.5" y2="463.5" stroke="#000" stroke-width="1.2"/>
<text x="0" y="0" transform="translate(22.8,297.7) rotate(-90)" font-family="Liberation Sans" font-size="10.5" font-weight="normal" text-anchor="start" stroke="#000" stroke-width="0.35">1000</text>
<text x="0" y="0" transform="translate(22.8,335.9) rotate(-90)" font-family="Liberation Sans" font-size="10.5" font-weight="normal" text-anchor="start" stroke="#000" stroke-width="0.35">100</text>
<text x="0" y="0" transform="translate(22.8,381.7) rotate(-90)" font-family="Liberation Sans" font-size="10.5" font-weight="normal" text-anchor="start" stroke="#000" stroke-width="0.35">10</text>
<text x="0" y="0" transform="translate(22.8,426.3) rotate(-90)" font-family="Liberation Sans" font-size="10.5" font-weight="normal" text-anchor="start" stroke="#000" stroke-width="0.35">1</text>
<text x="0" y="0" transform="translate(22.8,465.2) rotate(-90)" font-family="Liberation Sans" font-size="10.5" font-weight="normal" text-anchor="start" stroke="#000" stroke-width="0.35">.1</text>
<text x="0" y="0" transform="translate(9.8,412.4) rotate(-90)" font-family="Liberation Sans" font-size="11.6" font-weight="bold" text-anchor="start" stroke="#000" stroke-width="0.16">CD36-FITC</text>
<text x="209.5" y="323.5" font-family="Liberation Serif" font-size="20.5" font-weight="bold" text-anchor="start" stroke="#000" stroke-width="0.16">C</text>
<text x="209.7" y="410.4" font-family="Liberation Serif" font-size="15" font-weight="bold" text-anchor="start" stroke="#000" stroke-width="0.16">R3</text>
<text x="209.7" y="460.4" font-family="Liberation Serif" font-size="15" font-weight="bold" text-anchor="start" stroke="#000" stroke-width="0.16">R4</text>
<rect x="304.5" y="276.3" width="213.3" height="190.1" fill="none" stroke="#000" stroke-width="1.7"/>
<polyline points="517.5,293 327.3,293 327.3,349.3 517.5,349.3" fill="none" stroke="#000" stroke-width="1.4"/>
<polyline points="343.2,349.3 343.2,411.6 517.5,411.6" fill="none" stroke="#000" stroke-width="1.4"/>
<line x1="352.3" y1="411.6" x2="352.3" y2="466.4" stroke="#000" stroke-width="1.4"/>
<line x1="300.0" y1="466.4" x2="304.5" y2="466.4" stroke="#000" stroke-width="1.1"/>
<line x1="301.0" y1="452.10107520596085" x2="304.5" y2="452.10107520596085" stroke="#000" stroke-width="1"/>
<line x1="301.0" y1="443.736740400816" x2="304.5" y2="443.736740400816" stroke="#000" stroke-width="1"/>
<line x1="301.0" y1="437.8021504119218" x2="304.5" y2="437.8021504119218" stroke="#000" stroke-width="1"/>
<line x1="301.0" y1="433.1989247940391" x2="304.5" y2="433.1989247940391" stroke="#000" stroke-width="1"/>
<line x1="301.0" y1="429.4378156067769" x2="304.5" y2="429.4378156067769" stroke="#000" stroke-width="1"/>
<line x1="301.0" y1="426.25784309932277" x2="304.5" y2="426.25784309932277" stroke="#000" stroke-width="1"/>
<line x1="301.0" y1="423.50322561788266" x2="304.5" y2="423.50322561788266" stroke="#000" stroke-width="1"/>
<line x1="301.0" y1="421.07348080163206" x2="304.5" y2="421.07348080163206" stroke="#000" stroke-width="1"/>
<line x1="300.0" y1="418.9" x2="304.5" y2="418.9" stroke="#000" stroke-width="1.1"/>
<line x1="301.0" y1="404.60107520596085" x2="304.5" y2="404.60107520596085" stroke="#000" stroke-width="1"/>
<line x1="301.0" y1="396.236740400816" x2="304.5" y2="396.236740400816" stroke="#000" stroke-width="1"/>
<line x1="301.0" y1="390.3021504119218" x2="304.5" y2="390.3021504119218" stroke="#000" stroke-width="1"/>
<line x1="301.0" y1="385.6989247940391" x2="304.5" y2="385.6989247940391" stroke="#000" stroke-width="1"/>
<line x1="301.0" y1="381.9378156067769" x2="304.5" y2="381.9378156067769" stroke="#000" stroke-width="1"/>
<line x1="301.0" y1="378.75784309932277" x2="304.5" y2="378.75784309932277" stroke="#000" stroke-width="1"/>
<line x1="301.0" y1="376.00322561788266" x2="304.5" y2="376.00322561788266" stroke="#000" stroke-width="1"/>
<line x1="301.0" y1="373.57348080163206" x2="304.5" y2="373.57348080163206" stroke="#000" stroke-width="1"/>
<line x1="300.0" y1="371.4" x2="304.5" y2="371.4" stroke="#000" stroke-width="1.1"/>
<line x1="301.0" y1="357.10107520596085" x2="304.5" y2="357.10107520596085" stroke="#000" stroke-width="1"/>
<line x1="301.0" y1="348.736740400816" x2="304.5" y2="348.736740400816" stroke="#000" stroke-width="1"/>
<line x1="301.0" y1="342.8021504119218" x2="304.5" y2="342.8021504119218" stroke="#000" stroke-width="1"/>
<line x1="301.0" y1="338.1989247940391" x2="304.5" y2="338.1989247940391" stroke="#000" stroke-width="1"/>
<line x1="301.0" y1="334.4378156067769" x2="304.5" y2="334.4378156067769" stroke="#000" stroke-width="1"/>
<line x1="301.0" y1="331.25784309932277" x2="304.5" y2="331.25784309932277" stroke="#000" stroke-width="1"/>
<line x1="301.0" y1="328.50322561788266" x2="304.5" y2="328.50322561788266" stroke="#000" stroke-width="1"/>
<line x1="301.0" y1="326.07348080163206" x2="304.5" y2="326.07348080163206" stroke="#000" stroke-width="1"/>
<line x1="300.0" y1="323.9" x2="304.5" y2="323.9" stroke="#000" stroke-width="1.1"/>
<line x1="301.0" y1="309.60107520596085" x2="304.5" y2="309.60107520596085" stroke="#000" stroke-width="1"/>
<line x1="301.0" y1="301.236740400816" x2="304.5" y2="301.236740400816" stroke="#000" stroke-width="1"/>
<line x1="301.0" y1="295.3021504119218" x2="304.5" y2="295.3021504119218" stroke="#000" stroke-width="1"/>
<line x1="301.0" y1="290.6989247940391" x2="304.5" y2="290.6989247940391" stroke="#000" stroke-width="1"/>
<line x1="301.0" y1="286.9378156067769" x2="304.5" y2="286.9378156067769" stroke="#000" stroke-width="1"/>
<line x1="301.0" y1="283.75784309932277" x2="304.5" y2="283.75784309932277" stroke="#000" stroke-width="1"/>
<line x1="301.0" y1="281.00322561788266" x2="304.5" y2="281.00322561788266" stroke="#000" stroke-width="1"/>
<line x1="301.0" y1="278.57348080163206" x2="304.5" y2="278.57348080163206" stroke="#000" stroke-width="1"/>
<line x1="300.0" y1="276.4" x2="304.5" y2="276.4" stroke="#000" stroke-width="1.1"/>
<text x="313.0" y="481.8" font-family="Liberation Sans" font-size="11" font-weight="normal" text-anchor="start" stroke="#000" stroke-width="0.35">0</text>
<text x="334.1" y="481.8" font-family="Liberation Sans" font-size="11" font-weight="normal" text-anchor="start" stroke="#000" stroke-width="0.35">10</text>
<text x="367.6" y="481.8" font-family="Liberation Sans" font-size="11" font-weight="normal" text-anchor="start" stroke="#000" stroke-width="0.35">20</text>
<text x="401.1" y="481.8" font-family="Liberation Sans" font-size="11" font-weight="normal" text-anchor="start" stroke="#000" stroke-width="0.35">30</text>
<text x="434.5" y="481.8" font-family="Liberation Sans" font-size="11" font-weight="normal" text-anchor="start" stroke="#000" stroke-width="0.35">40</text>
<text x="467.5" y="481.8" font-family="Liberation Sans" font-size="11" font-weight="normal" text-anchor="start" stroke="#000" stroke-width="0.35">50</text>
<text x="500.7" y="481.8" font-family="Liberation Sans" font-size="11" font-weight="normal" text-anchor="start" stroke="#000" stroke-width="0.35">60</text>
<line x1="304.5" y1="466.4" x2="304.5" y2="470" stroke="#000" stroke-width="1"/>
<line x1="338" y1="466.4" x2="338" y2="470" stroke="#000" stroke-width="1"/>
<line x1="371.5" y1="466.4" x2="371.5" y2="470" stroke="#000" stroke-width="1"/>
<line x1="405" y1="466.4" x2="405" y2="470" stroke="#000" stroke-width="1"/>
<line x1="438.4" y1="466.4" x2="438.4" y2="470" stroke="#000" stroke-width="1"/>
<line x1="471.9" y1="466.4" x2="471.9" y2="470" stroke="#000" stroke-width="1"/>
<line x1="504.8" y1="466.4" x2="504.8" y2="470" stroke="#000" stroke-width="1"/>
<text x="409.2" y="499.8" font-family="Liberation Sans" font-size="11" font-weight="bold" text-anchor="start" stroke="#000" stroke-width="0.16">FS</text>
<text x="0" y="0" transform="translate(297.3,296) rotate(-90)" font-family="Liberation Sans" font-size="11" font-weight="normal" text-anchor="start" stroke="#000" stroke-width="0.35">1000</text>
<text x="0" y="0" transform="translate(297.3,335) rotate(-90)" font-family="Liberation Sans" font-size="11" font-weight="normal" text-anchor="start" stroke="#000" stroke-width="0.35">100</text>
<text x="0" y="0" transform="translate(297.3,380) rotate(-90)" font-family="Liberation Sans" font-size="11" font-weight="normal" text-anchor="start" stroke="#000" stroke-width="0.35">10</text>
<text x="0" y="0" transform="translate(297.3,424.2) rotate(-90)" font-family="Liberation Sans" font-size="11" font-weight="normal" text-anchor="start" stroke="#000" stroke-width="0.35">1</text>
<text x="0" y="0" transform="translate(297.3,461.7) rotate(-90)" font-family="Liberation Sans" font-size="11" font-weight="normal" text-anchor="start" stroke="#000" stroke-width="0.35">.1</text>
<text x="0" y="0" transform="translate(279.2,398.6) rotate(-90)" font-family="Liberation Sans" font-size="11.3" font-weight="bold" text-anchor="start" stroke="#000" stroke-width="0.16">7-AAD</text>
<text x="418" y="310.5" font-family="Liberation Sans" font-size="12" font-weight="bold" text-anchor="start" stroke="#000" stroke-width="0.16">Late apoptotic</text>
<text x="422.5" y="368.7" font-family="Liberation Sans" font-size="12" font-weight="bold" text-anchor="start" stroke="#000" stroke-width="0.16">Early apoptotic</text>
<text x="483.4" y="430.9" font-family="Liberation Sans" font-size="12" font-weight="bold" text-anchor="start" stroke="#000" stroke-width="0.16">Live</text>
<text x="321.5" y="455.6" font-family="Liberation Serif" font-size="19.5" font-weight="bold" text-anchor="start" stroke="#000" stroke-width="0.16">D</text>
</g></svg></body></html>
